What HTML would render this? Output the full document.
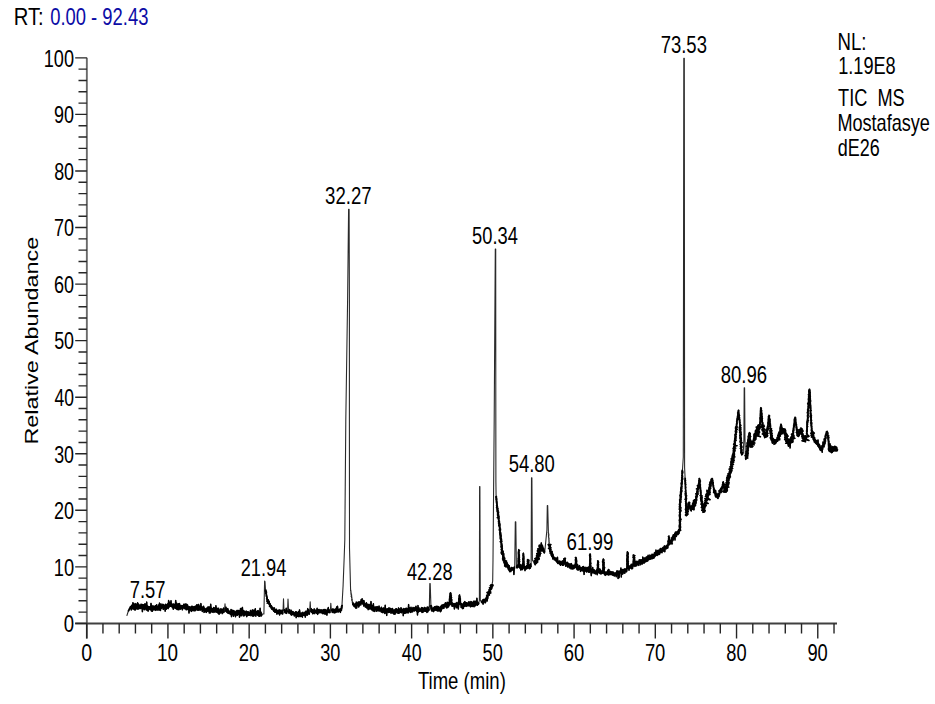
<!DOCTYPE html>
<html><head><meta charset="utf-8"><style>
html,body{margin:0;padding:0;background:#fff;}
svg{display:block;font-family:'Liberation Sans',sans-serif;}
</style></head><body>
<svg width="935" height="704" viewBox="0 0 935 704">
<rect width="935" height="704" fill="#fff"/>
<path d="M86.85,57.86 V638.6" stroke="#6a6a6a" stroke-width="1.9" fill="none"/>
<path d="M75.2,623.5 H837" stroke="#404040" stroke-width="1.8" fill="none"/>
<path d="M75.2,623.40H86.9 M78.5,612.09H86.9 M78.5,600.78H86.9 M78.5,589.47H86.9 M78.5,578.16H86.9 M75.2,566.85H86.9 M78.5,555.54H86.9 M78.5,544.22H86.9 M78.5,532.91H86.9 M78.5,521.60H86.9 M75.2,510.29H86.9 M78.5,498.98H86.9 M78.5,487.67H86.9 M78.5,476.36H86.9 M78.5,465.05H86.9 M75.2,453.74H86.9 M78.5,442.43H86.9 M78.5,431.12H86.9 M78.5,419.81H86.9 M78.5,408.49H86.9 M75.2,397.18H86.9 M78.5,385.87H86.9 M78.5,374.56H86.9 M78.5,363.25H86.9 M78.5,351.94H86.9 M75.2,340.63H86.9 M78.5,329.32H86.9 M78.5,318.01H86.9 M78.5,306.70H86.9 M78.5,295.39H86.9 M75.2,284.08H86.9 M78.5,272.77H86.9 M78.5,261.45H86.9 M78.5,250.14H86.9 M78.5,238.83H86.9 M75.2,227.52H86.9 M78.5,216.21H86.9 M78.5,204.90H86.9 M78.5,193.59H86.9 M78.5,182.28H86.9 M75.2,170.97H86.9 M78.5,159.66H86.9 M78.5,148.35H86.9 M78.5,137.04H86.9 M78.5,125.72H86.9 M75.2,114.41H86.9 M78.5,103.10H86.9 M78.5,91.79H86.9 M78.5,80.48H86.9 M78.5,69.17H86.9 M75.2,57.86H86.9 M86.70,623.5V638.4 M102.95,623.5V633.5 M119.19,623.5V633.5 M135.44,623.5V633.5 M151.68,623.5V633.5 M167.93,623.5V638.4 M184.18,623.5V633.5 M200.42,623.5V633.5 M216.67,623.5V633.5 M232.91,623.5V633.5 M249.16,623.5V638.4 M265.41,623.5V633.5 M281.65,623.5V633.5 M297.90,623.5V633.5 M314.14,623.5V633.5 M330.39,623.5V638.4 M346.64,623.5V633.5 M362.88,623.5V633.5 M379.13,623.5V633.5 M395.37,623.5V633.5 M411.62,623.5V638.4 M427.87,623.5V633.5 M444.11,623.5V633.5 M460.36,623.5V633.5 M476.60,623.5V633.5 M492.85,623.5V638.4 M509.10,623.5V633.5 M525.34,623.5V633.5 M541.59,623.5V633.5 M557.83,623.5V633.5 M574.08,623.5V638.4 M590.33,623.5V633.5 M606.57,623.5V633.5 M622.82,623.5V633.5 M639.06,623.5V633.5 M655.31,623.5V638.4 M671.56,623.5V633.5 M687.80,623.5V633.5 M704.05,623.5V633.5 M720.29,623.5V633.5 M736.54,623.5V638.4 M752.79,623.5V633.5 M769.03,623.5V633.5 M785.28,623.5V633.5 M801.52,623.5V633.5 M817.77,623.5V638.4 M834.02,623.5V633.5" stroke="#262626" stroke-width="1.4" fill="none"/>
<path d="M126.8,615.8 128.2,611.5 128.5,610.4 128.7,610.9 129.0,609.5 129.2,610.0 129.5,608.2 129.7,609.0 130.0,608.5 130.3,606.8 130.7,608.4 131.0,606.3 131.3,609.9 131.7,605.2 132.0,606.8 132.5,608.7 132.9,602.7 133.4,609.0 133.9,603.5 134.4,609.7 134.8,604.6 135.3,609.9 135.8,603.6 136.2,608.7 136.7,604.9 137.2,608.9 137.6,602.8 138.1,609.1 138.6,604.1 139.1,608.6 139.5,605.2 140.0,607.0 140.5,608.5 141.0,604.2 141.4,608.1 141.9,604.4 142.4,611.6 142.9,604.6 143.3,608.7 143.8,604.7 144.3,609.7 144.8,603.9 145.2,608.7 145.7,604.0 146.2,609.8 146.7,602.1 147.1,610.2 147.6,606.0 148.1,611.1 148.6,606.6 149.0,609.6 149.5,606.7 150.0,607.4 150.5,609.7 151.0,603.4 151.4,611.0 151.9,605.4 152.4,611.2 152.9,606.5 153.3,609.9 153.8,606.0 154.3,609.2 154.8,606.4 155.2,610.4 155.7,605.6 156.2,609.6 156.7,604.7 157.1,610.2 157.6,606.8 158.1,608.9 158.6,605.0 159.0,610.3 159.5,603.1 160.0,607.2 160.5,610.5 161.0,604.0 161.4,608.4 161.9,605.4 162.4,607.7 162.9,604.2 163.3,609.4 163.8,604.7 164.3,608.6 164.8,605.5 165.2,611.1 165.7,604.2 166.2,609.3 166.7,604.9 167.1,608.1 167.6,603.9 168.1,608.6 168.6,600.5 169.0,607.2 169.5,602.3 170.0,606.0 170.5,606.3 171.0,600.7 171.4,606.4 171.9,603.8 172.4,607.6 172.9,604.7 173.3,609.3 173.8,603.9 174.3,607.7 174.8,604.7 175.2,608.2 175.7,600.5 176.2,608.8 176.7,603.2 177.1,609.4 177.6,604.2 178.1,609.8 178.6,603.7 179.0,609.6 179.5,603.5 180.0,606.5 180.5,609.1 181.0,605.4 181.4,608.5 181.9,605.7 182.4,609.8 182.9,605.5 183.3,607.8 183.8,604.3 184.3,608.6 184.8,604.2 185.2,608.7 185.7,604.0 186.2,609.8 186.7,604.3 187.1,609.6 187.6,605.0 188.1,608.9 188.6,606.9 189.0,613.0 189.5,606.7 190.0,607.8 190.5,610.5 190.9,606.9 191.4,611.4 191.8,606.2 192.3,610.6 192.7,606.4 193.2,610.2 193.6,607.0 194.1,610.9 194.5,606.5 195.0,608.0 195.5,610.6 195.9,605.9 196.4,609.0 196.8,604.7 197.3,610.1 197.7,605.1 198.2,610.2 198.6,604.4 199.1,610.1 199.5,606.1 200.0,608.5 200.5,610.0 200.9,603.6 201.4,609.6 201.8,606.8 202.3,611.5 202.7,607.2 203.2,610.1 203.6,606.2 204.1,612.4 204.5,608.1 205.0,609.6 205.5,611.7 206.0,608.8 206.4,612.4 206.9,608.1 207.4,611.2 207.9,607.1 208.3,611.1 208.8,606.9 209.3,612.9 209.8,607.0 210.2,612.9 210.7,604.2 211.2,611.3 211.7,608.2 212.1,612.3 212.6,608.8 213.1,611.6 213.6,607.5 214.0,612.4 214.5,607.9 215.0,610.1 215.5,611.8 215.9,605.7 216.4,612.1 216.8,608.2 217.3,612.3 217.7,608.4 218.2,613.4 218.6,608.2 219.1,614.3 219.5,610.0 220.0,611.4 220.4,612.9 220.9,608.7 221.3,612.1 221.8,609.5 222.2,613.6 222.7,609.3 223.2,612.6 223.6,608.1 224.1,612.0 224.5,611.5 225.0,603.7 225.6,611.5 226.0,607.2 226.5,612.0 226.9,609.1 227.4,612.6 227.8,608.6 228.2,613.4 228.7,610.4 229.1,613.5 229.6,611.6 230.0,613.2 230.5,614.5 231.0,609.5 231.5,616.6 232.0,610.1 232.5,614.6 233.0,610.4 233.5,616.3 234.0,610.8 234.5,614.8 235.0,612.1 235.5,616.7 236.0,611.2 236.5,615.1 237.0,610.4 237.5,615.2 238.0,610.4 238.5,614.2 239.0,610.6 239.5,617.2 240.0,613.2 240.5,608.5 241.0,615.6 241.4,608.6 241.9,615.8 242.4,607.4 242.9,614.1 243.3,610.5 243.8,615.9 244.3,611.1 244.8,615.5 245.2,612.0 245.7,614.5 246.2,611.1 246.7,616.6 247.1,611.6 247.6,615.5 248.1,611.7 248.6,615.3 249.0,612.4 249.5,615.2 250.0,613.5 250.5,610.4 251.0,615.8 251.4,611.4 251.9,615.1 252.4,609.9 252.9,616.3 253.4,610.2 253.8,615.9 254.3,610.3 254.8,615.0 255.3,608.7 255.8,616.1 256.2,611.7 256.7,614.5 257.2,611.0 257.7,615.2 258.2,610.6 258.6,616.0 259.1,612.3 259.6,616.3 260.1,608.3 260.6,615.7 261.0,612.1 261.5,615.9 262.0,614.0 263.9,614.0 264.6,581.0 265.0,581.5 265.5,590.0 266.0,590.1 265.3,590.8 266.2,591.1 265.5,591.8 266.6,592.1 265.8,592.7 266.3,593.1 265.7,593.7 266.5,594.0 266.2,594.6 266.6,595.0 266.2,595.5 266.9,596.0 266.3,596.5 267.1,597.0 266.7,597.5 267.3,597.9 266.6,598.5 267.3,598.9 266.8,599.4 267.3,600.0 268.3,599.8 266.7,601.1 268.7,600.7 267.6,601.8 269.3,601.6 267.2,603.1 269.4,602.7 268.6,603.5 270.0,603.5 269.1,604.4 270.5,604.3 269.6,605.4 270.6,605.4 269.5,606.5 271.5,605.9 270.8,607.0 271.1,608.0 271.4,605.8 271.8,609.2 272.1,607.0 272.4,609.5 272.7,607.5 273.0,610.0 273.4,608.1 273.7,611.3 274.0,610.5 274.4,607.9 274.8,612.2 275.2,609.4 275.6,612.2 276.0,612.0 276.4,609.3 276.9,614.1 277.3,610.4 277.8,613.2 278.2,610.8 278.7,613.7 279.1,609.8 279.6,615.0 280.0,612.5 280.4,610.3 280.9,613.4 281.3,611.2 281.7,613.6 282.1,610.1 282.6,614.0 283.0,612.0 283.5,598.7 284.0,611.0 284.4,609.7 284.9,612.6 285.3,610.5 285.8,613.0 286.2,608.3 286.6,613.4 287.1,610.6 287.5,612.0 288.0,599.1 288.6,611.0 288.9,613.1 289.2,609.5 289.4,613.0 289.7,611.3 290.0,612.5 290.5,613.9 291.0,610.1 291.4,615.1 291.9,611.4 292.4,614.6 292.9,611.6 293.3,614.5 293.8,612.2 294.3,616.0 294.8,613.1 295.2,615.4 295.7,611.7 296.2,617.6 296.7,611.9 297.1,616.3 297.6,612.7 298.1,616.5 298.6,611.7 299.0,616.6 299.5,609.9 300.0,613.7 300.5,616.5 301.0,613.2 301.4,616.3 301.9,612.9 302.4,617.1 302.9,612.3 303.4,615.3 303.8,613.4 304.3,615.3 304.8,612.3 305.3,617.1 305.8,611.2 306.2,615.0 306.7,611.3 307.2,615.2 307.7,608.6 308.2,613.6 308.6,609.7 309.1,614.4 309.6,612.5 310.2,601.7 310.8,612.0 311.3,608.8 311.8,612.5 312.3,609.8 312.7,613.8 313.2,610.4 313.7,613.2 314.2,608.9 314.7,613.6 315.2,610.1 315.6,612.4 316.1,610.4 316.6,613.2 317.1,608.3 317.6,614.4 318.1,609.9 318.5,613.0 319.0,609.4 319.5,612.6 320.0,612.7 320.5,609.9 321.0,612.4 321.5,609.9 322.0,613.1 322.5,610.3 322.9,613.7 323.4,609.6 323.9,613.4 324.4,609.5 324.9,614.1 325.4,609.6 325.9,613.9 326.4,610.4 326.9,615.1 327.4,609.2 327.8,612.5 328.3,607.5 328.8,612.4 329.3,610.0 329.8,612.7 330.3,612.0 330.8,603.4 331.4,611.0 331.9,609.4 332.3,612.5 332.8,608.9 333.3,612.1 333.8,609.3 334.2,612.9 334.7,609.5 335.2,612.6 335.6,609.0 336.1,612.0 336.6,607.0 337.1,612.0 337.5,606.3 338.0,610.6 338.5,611.9 338.9,609.5 339.4,611.1 339.9,609.0 340.4,612.4 340.8,609.3 341.3,610.5 341.6,610.0 340.8,609.4 341.7,609.0 341.0,608.5 341.9,608.1 341.3,607.6 342.1,607.2 341.4,606.7 342.2,606.3 341.7,605.8 342.3,605.4 342.0,605.0 343.1,585.5 344.2,557.0 344.8,540.0 345.8,420.0 347.6,300.0 348.6,209.2 349.1,209.2 349.4,300.0 349.4,420.0 349.5,548.0 350.6,590.0 350.9,590.2 350.5,590.7 351.0,591.2 350.7,591.7 351.1,592.1 350.8,592.6 351.2,593.1 350.9,593.6 351.4,594.0 351.0,594.6 351.7,595.0 351.2,595.6 351.7,596.0 351.0,596.6 351.9,596.9 351.5,597.5 352.0,597.9 351.7,598.4 352.0,598.9 351.6,599.4 352.4,599.8 351.7,600.4 352.3,600.8 352.1,601.3 352.7,601.8 352.2,602.3 352.7,602.7 352.5,603.5 352.8,604.5 353.1,602.9 353.4,605.4 353.8,603.8 354.1,606.4 354.4,604.9 354.7,606.8 355.0,606.0 355.4,603.7 355.9,608.2 356.3,602.1 356.7,607.9 357.1,602.9 357.6,605.6 358.0,604.5 358.3,601.9 358.7,607.0 359.0,602.9 359.4,605.7 359.7,601.9 360.1,604.3 360.4,601.5 360.8,605.0 361.1,599.8 361.5,603.0 361.8,601.0 362.1,598.8 362.4,603.9 362.8,600.9 363.1,603.7 363.4,600.5 363.7,606.0 364.0,600.8 364.4,605.8 364.7,603.3 365.0,604.5 365.4,607.1 365.7,604.0 366.1,606.4 366.4,602.8 366.8,608.0 367.2,604.2 367.5,607.9 367.9,604.3 368.2,609.6 368.6,607.5 369.1,604.4 369.6,608.9 370.1,605.3 370.5,608.7 371.0,601.6 371.5,609.8 372.0,607.5 372.5,605.4 372.9,610.7 373.4,603.8 373.9,611.1 374.4,607.3 374.8,611.5 375.3,607.0 375.8,609.6 376.2,607.1 376.7,611.2 377.2,606.6 377.6,610.6 378.1,607.2 378.6,610.8 379.1,606.1 379.5,611.0 380.0,610.0 380.5,608.3 381.0,611.7 381.4,607.3 381.9,612.3 382.4,609.0 382.9,612.7 383.3,607.9 383.8,612.0 384.3,608.3 384.8,613.5 385.2,605.3 385.7,612.8 386.2,609.3 386.7,615.4 387.1,608.8 387.6,612.0 388.1,608.8 388.6,612.5 389.0,607.7 389.5,612.2 390.0,610.5 390.5,608.4 391.0,613.3 391.5,608.9 392.0,612.2 392.5,608.5 393.0,613.3 393.5,610.1 394.0,614.2 394.5,609.9 395.0,614.1 395.5,609.0 396.0,612.8 396.5,608.8 397.0,611.9 397.5,609.7 398.0,613.3 398.5,607.9 399.0,613.3 399.5,609.0 400.0,610.5 400.5,612.4 401.0,607.7 401.4,612.7 401.9,609.0 402.4,611.7 402.9,609.6 403.3,615.6 403.8,608.5 404.3,613.2 404.8,609.1 405.2,613.3 405.7,608.4 406.2,612.8 406.7,608.2 407.1,612.5 407.6,609.1 408.1,612.9 408.6,604.6 409.0,611.8 409.5,607.7 410.0,610.0 410.5,612.4 411.0,607.3 411.5,611.9 412.0,608.6 412.5,611.8 413.0,607.4 413.5,610.8 414.0,608.0 414.5,610.9 415.0,607.5 415.5,610.3 416.0,606.2 416.5,611.1 417.0,608.2 417.5,614.9 418.0,605.6 418.5,612.0 419.0,607.9 419.5,611.3 420.0,610.0 420.5,609.1 421.0,611.3 421.5,607.6 422.0,612.5 422.4,607.8 422.9,612.3 423.4,608.4 423.9,611.1 424.4,607.4 424.9,611.2 425.4,607.9 425.9,611.2 426.4,608.2 426.9,612.5 427.3,607.0 427.8,611.8 428.3,607.2 428.8,610.5 429.3,609.0 429.8,583.6 430.2,583.6 430.9,605.0 431.2,605.5 430.1,606.1 431.6,606.3 430.8,607.0 431.6,607.3 430.8,608.0 432.2,608.0 431.0,608.9 432.2,609.0 431.3,609.7 432.3,609.9 431.5,610.6 432.0,611.0 432.4,608.1 432.8,610.7 433.1,608.2 433.5,611.6 433.9,607.4 434.2,610.8 434.6,606.7 435.0,609.0 435.5,610.2 435.9,606.4 436.4,610.3 436.8,606.3 437.3,610.9 437.7,606.4 438.2,610.9 438.6,606.6 439.1,610.8 439.5,607.4 440.0,608.0 440.4,611.7 440.8,606.2 441.2,610.9 441.7,605.2 442.1,608.8 442.5,605.1 442.9,607.8 443.3,604.7 443.8,608.4 444.2,604.2 444.6,606.7 445.0,605.2 445.4,602.8 445.9,607.0 446.4,603.6 446.8,608.0 447.2,602.2 447.7,607.4 448.1,602.8 448.6,606.7 449.1,602.2 449.5,605.0 450.1,604.6 449.3,604.0 450.1,603.6 449.4,603.0 450.0,602.6 449.6,602.1 450.6,601.6 449.3,601.1 450.4,600.6 449.4,600.1 450.2,599.7 449.4,599.1 451.0,598.6 449.5,598.1 450.4,597.7 449.7,597.2 450.6,596.7 449.6,596.2 451.4,595.7 449.9,595.2 450.9,594.7 450.0,594.3 451.0,593.7 450.0,593.3 450.6,592.8 450.2,593.3 451.0,593.6 450.3,594.3 451.1,594.6 450.6,595.2 451.1,595.6 450.0,596.3 451.3,596.5 450.8,597.1 451.6,597.4 450.6,598.2 451.4,598.5 450.7,599.1 451.8,599.4 451.1,600.0 451.8,600.4 451.2,601.0 451.7,601.4 451.2,602.0 451.8,602.4 451.4,602.9 452.1,603.3 451.1,603.9 452.1,604.3 451.8,605.0 452.2,606.3 452.6,603.3 453.0,605.2 453.5,606.1 454.0,603.5 454.4,608.9 454.9,603.9 455.4,606.4 455.9,603.3 456.4,607.8 456.9,602.5 457.4,607.5 457.8,603.7 458.3,609.0 458.8,604.5 458.4,604.1 459.1,603.8 458.5,603.2 459.6,602.9 458.4,602.2 459.5,601.9 458.6,601.3 459.8,601.1 458.7,600.3 459.7,600.1 458.7,599.4 459.8,599.1 458.7,598.5 459.6,598.1 459.0,597.6 459.7,597.2 459.3,596.7 460.0,596.3 459.3,595.7 459.6,595.0 459.1,595.8 459.9,596.2 459.1,596.7 460.0,597.2 459.5,597.7 460.2,598.1 459.7,598.6 460.5,599.1 459.5,599.6 460.3,600.0 459.5,600.5 460.5,601.0 459.6,601.5 460.5,601.9 459.9,602.5 460.7,602.9 460.2,603.4 460.9,603.8 460.2,604.4 460.5,604.5 460.9,603.5 461.2,607.5 461.6,603.7 462.0,605.5 462.5,608.6 462.9,604.0 463.4,608.4 463.9,602.5 464.4,606.4 464.8,601.6 465.3,605.9 465.8,602.5 466.2,606.4 466.7,602.8 467.2,605.8 467.6,603.3 468.1,605.8 468.6,601.9 469.1,605.8 469.5,602.0 470.0,604.8 470.5,606.8 470.9,601.5 471.4,606.4 471.8,602.0 472.3,606.5 472.7,602.6 473.2,606.1 473.6,601.2 474.1,606.7 474.5,601.2 475.0,603.5 475.5,605.7 476.0,601.0 476.5,604.8 476.9,598.2 477.4,605.3 477.9,602.2 478.4,604.4 478.9,603.0 479.4,600.0 479.6,486.6 479.9,486.6 480.3,600.0 481.5,602.6 481.9,601.1 482.3,602.9 482.7,600.1 483.1,604.1 483.4,599.4 483.8,602.9 484.2,599.4 484.6,601.7 485.0,600.0 485.3,599.1 485.5,602.7 485.8,598.2 486.1,601.0 486.4,597.0 486.6,599.5 486.9,596.1 487.2,600.9 487.5,595.1 487.7,598.7 488.0,595.8 486.6,595.3 489.4,595.1 487.8,594.6 489.6,594.0 487.4,593.5 490.8,593.0 487.0,592.4 490.8,592.0 488.4,591.4 490.4,590.8 490.0,590.7 488.9,589.9 491.1,589.5 489.8,588.8 491.7,588.7 489.4,587.8 492.1,587.8 490.6,586.8 492.1,586.8 490.2,585.7 492.8,586.0 490.9,584.8 493.1,585.1 492.0,584.7 492.7,581.0 493.0,560.0 494.2,420.0 495.3,249.1 495.7,249.1 495.8,400.0 495.9,482.0 496.1,496.0 496.5,496.4 495.8,496.9 496.5,497.3 495.9,497.9 496.7,498.3 496.2,498.8 496.8,499.3 496.0,499.8 496.7,500.2 496.4,500.7 496.9,501.2 496.3,501.7 497.0,502.2 496.4,502.7 497.1,503.1 496.6,503.6 497.1,504.1 496.7,504.6 497.3,505.0 496.5,505.6 497.3,506.0 496.7,506.5 497.6,506.9 496.5,507.5 497.3,508.0 498.0,508.3 496.8,509.0 497.7,509.3 497.2,509.9 498.2,510.2 497.0,510.9 498.0,511.2 497.3,511.8 498.7,512.1 497.6,512.7 498.5,513.1 497.5,513.7 498.3,514.1 497.5,514.7 498.8,515.0 497.6,515.7 498.7,516.0 498.0,516.6 499.2,516.9 497.3,517.7 499.0,518.0 498.3,518.5 499.1,518.9 498.4,519.5 498.8,520.0 499.1,520.3 498.5,520.9 499.5,521.2 498.4,521.9 499.5,522.2 498.9,522.8 499.7,523.2 498.5,523.8 500.0,524.1 499.0,524.7 500.0,525.0 498.7,525.7 500.0,526.0 499.3,526.6 499.9,527.0 499.4,527.6 500.2,527.9 499.5,528.5 500.5,528.9 499.3,529.6 500.6,529.8 499.4,530.5 500.4,530.8 499.8,531.4 500.2,532.0 500.6,532.3 499.6,532.9 500.8,533.3 499.8,533.9 500.9,534.2 499.9,534.8 501.1,535.2 500.1,535.8 501.3,536.2 500.2,536.8 501.0,537.2 500.2,537.7 501.3,538.2 500.2,538.7 501.6,539.2 500.6,539.7 501.4,540.2 500.8,540.6 501.9,541.2 500.2,541.7 501.5,542.2 500.9,542.6 501.7,543.2 501.1,543.6 501.9,544.2 501.1,544.6 502.1,545.2 501.2,545.6 502.3,546.1 501.0,546.5 502.2,547.1 501.2,547.5 502.4,548.1 501.5,548.6 502.3,549.1 501.2,549.5 502.3,550.1 501.5,550.5 502.1,551.0 503.3,551.2 501.3,552.0 503.3,552.2 501.1,553.0 503.3,553.2 501.7,554.1 504.0,554.0 502.5,554.9 503.8,555.0 502.7,555.9 503.9,556.0 502.7,556.9 504.0,556.9 502.7,557.9 504.6,557.8 502.5,558.9 504.9,558.8 503.0,559.8 504.7,559.8 503.2,560.7 504.2,561.0 505.6,560.8 503.8,562.1 506.6,561.1 504.2,563.0 506.5,562.4 504.5,563.9 507.1,562.8 504.6,565.0 507.5,563.8 504.6,566.0 508.2,564.7 505.7,566.7 507.0,566.6 507.3,565.0 507.6,567.7 508.0,565.6 508.3,569.3 508.6,565.7 508.9,570.1 509.3,565.8 509.6,571.6 509.9,569.5 510.4,568.6 510.8,571.6 511.3,567.4 511.8,570.2 512.2,567.6 512.7,568.8 513.1,570.1 513.5,567.9 513.9,574.5 514.3,566.9 514.7,568.5 515.3,521.9 515.8,521.9 516.4,566.0 516.8,567.8 517.1,565.4 517.5,567.7 517.8,565.8 518.2,567.0 518.8,566.7 518.0,566.2 518.6,565.7 518.0,565.2 518.5,564.7 518.0,564.2 518.7,563.7 518.2,563.2 518.5,562.7 518.1,562.2 518.6,561.7 518.0,561.2 518.8,560.7 518.1,560.2 518.8,559.7 518.2,559.2 518.6,558.7 518.1,558.2 518.7,557.7 518.4,557.2 518.9,556.7 518.3,556.2 519.1,555.7 518.4,555.2 519.4,554.7 518.3,554.2 519.0,553.7 518.3,553.2 519.1,552.7 518.3,552.2 518.9,551.7 518.5,551.2 519.4,550.7 518.5,550.2 518.8,549.6 518.7,550.3 519.6,550.6 518.7,551.2 519.0,551.7 518.7,552.2 519.2,552.7 518.7,553.2 519.1,553.7 518.7,554.2 519.2,554.7 518.7,555.2 519.4,555.6 518.5,556.2 519.4,556.6 518.6,557.2 519.5,557.6 518.7,558.2 519.3,558.6 518.9,559.2 519.6,559.5 518.8,560.2 519.5,560.6 518.9,561.2 519.7,561.5 518.9,562.2 519.5,562.5 519.1,563.1 519.5,563.5 519.0,564.2 519.6,564.5 519.0,565.2 519.5,565.5 519.2,566.1 519.7,566.5 519.4,567.0 519.8,568.1 520.3,564.6 520.7,569.9 521.1,566.4 521.6,569.6 522.0,564.8 522.5,569.6 522.9,568.0 522.5,567.3 523.1,566.9 522.6,566.4 523.3,566.0 522.5,565.4 523.2,565.0 522.8,564.4 523.4,564.0 522.6,563.4 523.5,563.0 522.9,562.5 523.4,562.0 522.9,561.5 523.3,561.0 522.9,560.5 523.5,560.0 522.7,559.5 523.6,559.1 522.8,558.5 523.6,558.1 523.0,557.6 523.7,557.1 523.1,556.6 523.9,556.1 523.2,555.6 523.6,555.1 523.0,554.6 523.7,554.1 523.1,553.6 523.4,553.2 523.3,553.6 523.7,554.1 523.0,554.6 523.6,555.1 522.9,555.6 523.8,556.1 523.1,556.6 523.9,557.1 523.4,557.6 524.0,558.0 523.4,558.6 524.0,559.0 523.2,559.6 523.8,560.0 523.4,560.5 523.9,561.0 523.5,561.5 524.1,562.0 523.5,562.5 524.0,563.0 523.4,563.5 524.1,564.0 523.6,564.5 524.3,565.0 523.7,565.5 524.1,566.0 523.5,566.5 524.4,566.9 523.6,567.4 524.0,568.0 524.5,566.5 525.0,570.6 525.5,566.6 526.0,569.1 526.5,565.8 527.0,568.5 527.5,568.0 527.3,567.4 527.8,567.0 527.2,566.4 528.1,566.1 527.1,565.4 528.0,565.1 527.4,564.5 528.2,564.1 527.2,563.6 528.2,563.2 527.5,562.7 528.4,562.2 527.3,561.7 528.4,561.3 527.4,560.8 529.0,560.3 527.4,559.8 528.0,559.5 527.5,559.9 528.3,560.3 527.7,560.8 528.7,561.2 527.9,561.8 528.9,562.1 527.9,562.8 528.5,563.1 527.7,563.7 528.8,564.0 527.9,564.6 528.6,565.0 528.2,565.6 528.9,565.9 528.0,566.6 529.1,566.8 528.0,567.5 528.6,568.0 529.0,564.0 529.4,568.7 529.9,565.2 530.3,568.3 530.7,563.8 531.1,567.0 531.5,477.8 531.9,477.8 532.4,560.0 532.7,560.7 532.9,560.3 533.2,561.4 533.4,561.0 533.7,562.1 534.0,561.8 534.2,563.0 534.5,562.8 534.7,564.1 535.0,563.8 535.2,564.8 535.5,565.0 534.4,563.3 536.4,563.5 534.2,562.1 537.0,562.7 535.1,561.7 537.8,562.0 534.6,560.4 537.4,560.8 535.3,559.7 538.0,560.0 534.9,558.6 539.0,559.4 536.0,557.8 539.3,558.6 536.5,557.0 538.9,557.4 536.4,555.9 539.0,556.4 536.8,555.1 540.1,555.9 538.3,555.3 536.7,553.5 540.3,554.4 537.9,553.0 540.9,553.3 537.4,551.7 540.0,552.3 537.4,550.7 540.2,551.3 537.9,549.9 541.7,550.9 537.8,548.8 541.7,549.9 539.3,548.4 541.1,548.2 539.3,547.4 541.6,547.7 538.9,546.1 542.6,547.2 539.2,545.2 541.8,545.9 541.1,545.3 541.3,542.9 541.5,547.5 541.7,544.3 541.9,548.3 542.2,546.0 542.4,549.9 542.6,545.9 542.8,551.0 543.0,549.0 543.2,548.2 543.4,551.8 543.6,548.3 543.9,552.5 544.1,550.1 544.3,553.0 544.5,551.5 544.7,552.4 546.9,530.0 547.3,505.6 547.7,505.6 548.4,532.0 548.2,532.5 548.6,532.9 548.3,533.4 548.8,533.9 548.3,534.4 549.1,534.9 548.4,535.4 548.8,535.8 548.4,536.3 548.8,536.8 548.5,537.3 549.0,537.8 548.7,538.2 549.1,538.7 548.6,539.2 549.1,539.7 548.8,540.2 549.2,540.6 548.8,541.1 549.2,541.6 548.9,542.1 549.4,542.6 548.9,543.1 549.3,543.5 549.2,544.0 548.2,544.6 550.9,544.5 548.6,545.6 550.5,545.6 549.2,546.5 550.4,546.7 549.2,547.5 550.9,547.5 548.5,548.5 550.8,548.5 549.5,549.3 551.0,549.4 549.8,550.2 550.9,550.4 549.7,551.2 551.1,551.3 550.2,552.1 551.7,552.3 550.1,553.1 551.3,553.3 551.0,553.9 551.3,555.4 551.5,551.9 551.8,556.4 552.1,551.4 552.3,556.9 552.6,553.6 552.8,558.9 553.1,554.6 553.4,558.4 553.6,556.7 553.9,558.1 554.3,559.7 554.6,557.5 555.0,559.9 555.3,558.0 555.7,560.7 556.1,558.8 556.4,561.5 556.8,558.1 557.1,562.5 557.5,557.3 557.8,563.5 558.2,561.0 558.6,563.1 558.9,561.4 559.3,564.0 559.6,561.0 560.0,563.8 560.5,565.2 561.0,561.3 561.4,564.5 561.9,562.2 562.4,565.2 562.8,560.8 563.3,565.2 563.8,564.3 563.3,563.4 564.5,563.0 563.7,562.5 564.6,562.1 563.8,561.5 564.7,561.1 563.6,560.5 564.7,560.2 563.8,559.6 564.9,559.3 563.9,558.6 565.5,558.4 564.6,558.2 565.3,558.2 564.4,558.7 565.1,559.2 564.5,559.7 565.3,560.1 564.7,560.6 565.3,561.1 564.6,561.6 565.6,562.0 564.8,562.5 565.7,563.0 564.9,563.5 565.6,563.9 565.3,564.8 565.8,566.2 566.2,562.7 566.7,565.7 567.2,562.3 567.6,567.0 568.1,563.1 568.6,566.7 569.1,563.8 569.5,567.9 570.0,566.3 570.5,564.1 570.9,568.8 571.4,563.6 571.8,568.8 572.3,565.2 572.8,569.0 573.2,565.2 573.7,568.6 574.1,565.5 574.6,567.9 575.0,564.8 575.5,567.5 576.0,566.8 575.2,566.2 575.9,565.8 575.3,565.2 575.9,564.8 575.1,564.2 575.9,563.9 575.4,563.3 576.1,562.9 575.4,562.3 576.2,562.0 575.5,561.4 576.2,561.0 575.4,560.4 576.2,560.1 575.4,559.4 576.2,559.1 575.7,558.5 576.3,558.1 575.4,557.5 576.0,557.4 575.4,557.6 576.3,558.1 575.6,558.6 576.5,559.1 575.9,559.6 576.5,560.1 575.9,560.6 576.8,561.1 575.8,561.6 576.5,562.1 576.0,562.6 576.7,563.1 575.9,563.6 576.6,564.1 576.2,564.6 576.7,565.1 576.1,565.6 576.8,566.1 575.5,566.6 576.9,567.1 576.6,567.8 577.1,569.6 577.6,564.6 578.1,570.1 578.5,566.6 579.0,569.4 579.5,565.6 580.0,568.3 580.5,571.4 580.9,567.4 581.4,570.6 581.8,567.6 582.3,570.6 582.7,566.7 583.2,571.1 583.6,566.5 584.1,574.4 584.5,567.8 585.0,569.6 585.5,571.0 585.9,567.3 586.4,572.0 586.9,568.0 587.4,571.1 587.8,567.4 588.3,572.1 588.8,566.9 589.2,572.3 589.7,570.5 589.5,569.8 589.9,569.3 589.4,568.8 590.1,568.3 589.4,567.8 590.1,567.4 589.6,566.9 590.1,566.4 589.5,565.9 590.3,565.4 589.6,564.9 590.1,564.4 589.6,563.9 590.1,563.5 589.8,563.0 590.2,562.5 589.7,562.0 590.1,561.5 589.8,561.0 590.4,560.6 589.7,560.1 590.3,559.6 589.8,559.1 590.3,558.6 589.9,558.1 590.3,557.7 589.7,557.1 590.4,556.7 589.7,556.2 590.5,555.7 589.9,555.2 590.5,554.8 589.9,554.2 590.2,554.0 589.8,554.3 590.4,554.7 589.5,555.2 590.4,555.7 590.1,556.2 590.6,556.7 590.1,557.2 590.5,557.7 590.2,558.1 590.7,558.6 590.0,559.1 590.7,559.6 590.0,560.1 590.6,560.6 590.3,561.1 590.6,561.6 590.3,562.0 590.7,562.5 590.2,563.0 590.9,563.5 590.3,564.0 590.7,564.5 590.4,565.0 590.8,565.5 590.3,565.9 591.0,566.4 590.3,566.9 590.9,567.4 590.3,567.9 591.0,568.4 590.2,568.8 591.4,569.4 590.6,569.8 591.0,570.3 590.8,571.0 591.3,575.6 591.7,569.8 592.2,572.9 592.7,567.5 593.1,572.3 593.6,569.8 594.1,573.5 594.5,570.0 595.0,572.4 595.4,573.9 595.9,571.1 596.3,573.5 596.7,569.7 597.2,574.7 597.6,572.5 597.3,571.7 597.9,571.2 597.1,570.8 598.0,570.2 597.5,569.8 598.3,569.3 597.2,568.8 598.0,568.2 597.3,567.8 598.0,567.3 597.6,566.8 598.3,566.3 597.4,565.9 598.3,565.4 597.3,564.9 598.1,564.3 597.5,563.9 598.2,563.4 597.6,562.9 598.2,562.4 597.7,561.9 598.5,561.5 597.7,560.9 598.0,560.8 597.6,561.0 598.4,561.4 597.7,562.0 598.6,562.4 597.7,563.0 598.4,563.4 597.8,563.9 598.6,564.4 597.7,564.9 598.5,565.4 597.9,565.9 598.5,566.4 597.7,566.9 598.5,567.4 597.8,567.9 598.7,568.4 597.9,568.8 599.0,569.4 597.8,569.8 598.7,570.3 598.1,570.8 599.0,571.3 598.3,571.8 598.5,572.6 599.0,569.9 599.4,573.1 599.9,569.0 600.3,573.8 600.8,570.2 601.2,573.8 601.6,571.6 602.1,573.4 602.5,570.5 603.0,573.0 603.6,572.4 602.8,571.9 603.4,571.4 602.7,570.9 603.4,570.5 602.9,570.0 603.7,569.5 602.7,569.0 603.4,568.5 602.8,568.0 603.7,567.6 603.0,567.1 603.5,566.6 602.9,566.1 603.4,565.6 602.8,565.2 603.4,564.7 602.8,564.2 603.9,563.7 602.9,563.2 604.3,562.7 602.8,562.3 603.7,561.8 602.5,561.3 603.5,560.8 602.9,560.3 603.8,559.8 603.1,559.4 603.4,559.0 603.2,559.4 603.9,559.8 602.9,560.4 603.9,560.8 603.1,561.4 603.7,561.8 602.6,562.4 603.9,562.8 603.2,563.3 604.1,563.8 603.2,564.3 604.1,564.7 603.4,565.3 604.0,565.7 603.2,566.3 604.2,566.7 603.4,567.3 604.7,567.7 603.4,568.3 604.4,568.7 603.2,569.3 604.3,569.7 603.7,570.2 604.2,570.7 603.4,571.2 604.5,571.6 603.6,572.2 604.3,572.6 604.0,573.3 604.4,574.3 604.8,571.7 605.2,575.4 605.6,572.3 606.0,573.8 606.5,574.6 606.9,571.8 607.4,574.4 607.8,570.3 608.3,575.0 608.8,569.4 609.2,574.7 609.7,571.4 610.2,574.5 610.6,571.4 611.1,574.6 611.5,571.9 612.0,574.2 612.5,575.1 612.9,571.7 613.4,575.5 613.9,572.8 614.4,575.9 614.8,573.3 615.3,575.1 615.8,572.8 616.2,576.7 616.7,571.1 617.2,574.7 617.6,570.9 618.1,578.5 618.6,571.2 619.1,577.6 619.5,571.1 620.0,572.8 620.4,572.9 620.9,568.0 621.3,577.0 621.7,569.7 622.2,574.2 622.6,569.5 623.0,573.7 623.4,569.7 623.9,571.9 624.3,568.9 624.7,573.3 625.2,569.1 625.6,570.5 626.0,571.8 626.3,568.4 626.6,571.7 627.0,569.5 626.4,568.9 627.3,568.4 626.7,567.9 627.5,567.4 626.8,566.9 627.4,566.4 626.9,565.9 627.4,565.4 626.9,565.0 627.4,564.4 626.7,564.0 627.6,563.4 626.9,563.0 627.5,562.5 626.8,562.0 627.7,561.5 626.8,561.0 627.6,560.5 626.7,560.0 627.7,559.5 626.7,559.0 627.7,558.5 627.1,558.1 627.6,557.5 627.0,557.1 627.7,556.6 627.0,556.1 627.6,555.6 627.2,555.1 627.8,554.6 627.2,554.1 628.0,553.6 627.1,553.1 628.0,552.6 627.2,552.2 627.5,551.8 627.3,552.2 628.0,552.6 627.2,553.2 628.3,553.5 627.4,554.1 628.2,554.5 626.8,555.2 628.0,555.5 627.5,556.1 628.2,556.5 627.4,557.1 628.2,557.5 627.5,558.0 628.1,558.5 627.6,559.0 628.1,559.4 627.6,560.0 628.1,560.4 627.3,561.0 628.4,561.4 627.6,562.0 628.2,562.4 627.1,563.0 628.4,563.4 627.4,564.0 628.2,564.4 627.7,564.9 628.6,565.3 627.5,565.9 628.4,566.3 627.4,566.9 628.5,567.3 627.8,567.8 628.1,568.5 628.5,566.1 629.0,570.2 629.4,566.3 629.9,568.4 630.3,565.9 630.8,567.6 631.2,564.3 631.6,568.8 632.1,564.5 632.5,568.6 633.0,563.7 633.4,566.0 633.7,565.3 633.2,564.8 633.7,564.3 632.9,563.9 633.8,563.3 633.1,562.9 633.8,562.4 633.2,561.9 633.9,561.4 633.1,561.0 634.2,560.5 633.4,560.0 634.0,559.5 633.4,559.1 634.0,558.5 633.4,558.1 634.0,557.6 632.9,557.2 634.2,556.6 633.6,556.2 634.3,555.7 633.5,555.2 633.9,555.0 633.1,555.3 634.9,555.6 633.4,556.2 634.5,556.6 633.5,557.2 634.7,557.5 633.9,558.1 634.6,558.5 633.7,559.0 634.7,559.4 633.9,560.0 634.5,560.4 633.9,560.9 634.9,561.3 633.5,562.0 634.8,562.3 633.8,562.9 634.7,563.2 634.1,563.8 634.8,564.2 634.5,565.0 634.9,566.4 635.4,561.3 635.8,565.8 636.2,561.3 636.7,565.8 637.1,561.7 637.5,564.6 638.0,561.2 638.4,564.0 638.8,565.4 639.3,559.8 639.7,563.4 640.2,560.1 640.6,564.7 641.0,559.7 641.5,563.8 641.9,559.9 642.4,563.9 642.8,557.1 643.3,562.8 643.7,558.4 644.1,563.1 644.6,558.0 645.0,562.0 645.5,558.1 645.9,561.7 646.3,557.0 646.8,561.3 647.2,556.7 647.7,561.0 648.1,555.3 648.6,559.8 649.0,556.6 649.4,559.4 649.9,555.1 650.3,559.2 650.8,555.5 651.2,557.5 651.6,558.7 652.0,554.2 652.4,558.6 652.8,554.5 653.2,558.2 653.6,554.5 654.0,558.0 654.4,552.9 654.8,556.8 655.2,552.2 655.6,555.7 656.0,550.1 656.4,555.1 656.8,551.9 657.2,555.5 657.6,550.5 658.0,553.9 658.4,550.3 658.8,554.6 659.2,550.6 659.6,554.1 660.0,549.0 660.4,552.6 660.8,548.4 661.2,552.3 661.6,549.2 662.0,552.7 662.4,548.1 662.8,550.6 663.2,547.3 663.6,551.1 664.0,548.6 664.4,545.9 664.8,551.7 665.1,546.1 665.5,548.8 665.9,546.4 666.2,548.8 666.6,545.4 667.0,548.2 667.4,545.0 667.8,548.0 668.1,544.0 668.5,545.0 669.1,544.8 668.2,544.1 668.8,543.8 668.3,543.2 668.9,542.8 668.4,542.2 668.9,541.9 667.8,541.2 669.1,541.0 668.4,540.3 669.1,540.0 668.5,539.4 669.2,539.1 668.5,538.5 669.7,538.1 668.6,537.6 669.2,537.2 668.4,536.5 669.0,536.0 668.7,536.7 669.3,537.2 668.9,537.6 669.7,538.0 668.8,538.6 669.4,539.0 669.0,539.6 669.8,539.9 669.0,540.5 669.6,540.9 669.1,541.4 669.7,541.8 668.9,542.4 669.7,542.8 669.3,543.3 669.7,543.7 669.1,544.3 669.6,544.5 667.9,543.3 672.4,543.7 668.0,542.3 672.0,542.7 668.5,541.7 672.3,541.7 669.0,541.2 672.8,540.6 669.1,540.2 673.3,539.7 671.6,539.6 671.9,537.5 672.3,540.2 672.6,536.3 673.0,538.4 673.3,534.7 673.6,538.6 674.0,534.7 674.3,538.4 674.7,533.6 675.0,540.0 675.3,532.2 675.7,536.4 676.0,532.1 676.4,536.5 676.7,534.5 677.0,531.8 677.3,534.5 677.6,532.0 677.9,534.6 678.1,530.7 678.4,534.0 678.7,529.9 679.0,533.5 679.3,531.0 678.5,530.3 679.9,530.8 678.6,529.5 680.7,530.2 679.2,529.0 680.5,529.2 679.9,528.0 679.3,527.7 680.6,527.6 679.2,526.7 680.6,526.6 679.2,525.7 680.4,525.6 679.4,524.8 680.5,524.6 679.7,524.0 680.5,523.6 679.4,522.9 680.3,522.6 679.6,522.0 680.6,521.7 679.3,520.9 680.2,520.7 679.3,519.9 681.1,519.7 679.5,519.0 680.7,518.7 679.6,518.0 680.4,517.7 679.5,517.0 680.3,516.8 679.3,516.0 680.3,515.8 679.3,515.0 680.5,514.8 679.6,514.1 680.2,513.8 679.6,513.1 680.3,512.8 679.4,512.1 680.4,511.9 679.7,511.2 681.1,510.9 679.7,510.2 680.9,509.9 679.2,509.1 680.3,508.9 679.5,508.2 681.1,508.0 679.4,507.2 680.6,507.0 679.3,506.2 680.5,506.0 679.7,505.3 680.6,505.0 679.3,504.2 680.0,503.5 680.4,503.6 679.8,502.9 680.8,502.6 679.7,501.9 680.9,501.6 679.6,500.8 680.7,500.6 679.6,499.8 681.1,499.6 680.1,499.0 681.0,498.6 680.1,498.0 681.2,497.6 680.3,497.0 681.4,496.6 679.9,495.9 681.1,495.6 680.0,495.0 681.4,494.6 680.4,494.0 681.4,493.6 680.4,493.0 681.5,492.6 680.4,492.0 681.9,491.5 680.6,491.1 681.9,490.5 680.7,490.1 681.7,489.5 680.7,489.1 681.9,488.5 680.8,488.1 681.9,487.5 680.9,487.1 682.0,486.5 681.5,485.6 681.3,485.5 682.0,484.9 681.2,484.5 682.2,483.9 681.1,483.5 682.2,482.9 681.3,482.5 682.3,481.9 681.5,481.5 682.2,480.9 681.4,480.5 682.4,479.9 681.6,479.5 682.9,478.9 681.7,478.5 682.5,477.9 681.6,477.5 682.6,476.9 681.9,476.5 682.6,475.9 681.7,475.5 682.4,474.9 682.0,474.5 682.5,473.9 681.9,473.5 682.8,472.9 681.9,472.5 682.8,471.9 681.9,471.5 682.6,470.9 682.1,470.5 682.5,469.7 683.3,457.0 683.8,58.3 684.3,58.3 684.6,467.7 685.1,477.7 685.0,478.2 685.4,478.6 685.0,479.2 685.4,479.6 684.9,480.2 685.6,480.6 684.9,481.2 685.4,481.6 685.1,482.1 685.6,482.6 685.0,483.1 685.6,483.6 685.0,484.1 685.8,484.5 685.3,485.1 685.6,485.6 685.2,486.1 685.7,486.5 685.4,487.1 685.8,487.5 685.2,488.1 685.7,488.5 685.4,489.1 685.6,489.6 685.9,490.0 685.5,490.5 685.9,490.9 685.3,491.5 685.8,491.9 685.4,492.5 686.1,492.9 685.2,493.5 686.2,493.9 685.3,494.5 686.0,494.9 685.4,495.5 686.7,495.9 685.6,496.4 686.2,496.9 685.6,497.4 686.4,497.8 685.4,498.4 686.6,498.8 685.1,499.5 686.4,499.8 685.7,500.4 686.2,500.8 685.5,501.4 686.1,501.8 685.7,502.4 686.3,502.8 685.6,503.3 686.5,503.8 685.7,504.3 686.5,504.8 685.6,505.3 686.5,505.8 685.7,506.3 686.3,506.8 685.8,507.3 686.4,507.7 685.6,508.3 686.3,508.7 685.4,509.3 686.5,509.7 685.7,510.3 686.6,510.7 686.0,511.2 686.4,511.7 685.5,512.3 686.4,512.7 686.1,513.2 686.4,513.7 685.8,514.2 686.7,514.7 685.9,515.2 686.3,515.8 685.4,514.9 687.4,515.0 686.2,514.0 688.0,514.2 686.1,512.9 687.8,513.1 686.4,512.0 687.5,512.0 688.3,511.6 687.4,510.9 688.0,510.6 687.4,509.9 688.2,509.6 687.5,508.9 688.6,508.7 687.8,508.0 688.6,507.7 687.5,506.9 689.6,506.9 687.8,506.0 689.2,505.8 688.0,505.0 689.3,504.8 688.1,504.1 689.4,503.8 688.1,503.1 689.3,502.8 689.0,502.2 689.7,502.7 688.5,503.3 689.6,503.7 688.6,504.3 689.7,504.7 688.9,505.3 689.9,505.7 688.9,506.3 690.1,506.6 689.2,507.2 690.3,507.6 690.0,508.0 690.4,510.0 690.8,507.5 691.2,511.0 691.6,506.8 692.0,509.0 694.0,509.8 690.9,507.9 694.2,508.8 691.0,506.8 694.0,507.6 691.3,505.9 694.4,506.8 692.7,505.6 695.1,506.0 692.4,504.3 695.6,505.2 692.5,503.3 695.6,504.1 693.3,502.6 696.0,503.3 693.4,501.6 696.3,502.2 693.4,500.5 696.2,501.1 694.4,499.8 696.9,500.0 696.0,498.8 695.8,498.7 696.7,498.2 695.8,497.7 697.0,497.2 695.6,496.7 697.5,496.1 696.1,495.8 697.3,495.2 696.2,494.8 698.2,494.1 695.8,493.8 698.0,493.1 696.8,492.8 698.0,492.1 696.7,491.8 698.1,491.1 697.0,490.8 697.9,490.2 697.3,489.8 698.6,489.2 696.4,488.9 698.4,488.2 697.6,487.8 699.0,487.3 697.8,486.7 698.6,486.3 697.3,485.8 699.0,485.3 698.5,485.0 698.3,484.4 698.9,484.0 698.5,483.5 699.1,483.0 698.7,482.5 699.4,482.1 698.8,481.6 699.2,481.1 698.8,480.6 699.9,480.2 699.1,479.7 699.7,479.2 699.1,478.7 699.5,478.4 699.3,478.8 699.8,479.2 699.3,479.8 700.0,480.2 699.4,480.7 700.5,481.1 699.5,481.7 700.2,482.1 699.7,482.6 700.0,483.1 699.8,483.6 700.1,484.1 699.7,484.6 700.5,485.0 700.0,485.5 700.3,486.0 699.9,486.5 700.5,487.0 700.1,487.5 700.6,488.0 699.9,488.5 700.6,488.9 700.3,489.4 700.8,489.9 700.2,490.4 701.0,490.9 700.3,491.4 701.0,491.9 700.5,492.4 701.1,492.8 700.5,493.4 701.0,493.8 700.6,494.3 701.1,494.8 701.0,495.4 700.1,495.6 702.0,495.6 700.9,496.6 702.0,496.6 700.6,497.6 702.3,497.6 700.5,498.6 702.1,498.6 700.7,499.6 702.0,499.6 700.9,500.6 702.2,500.6 701.1,501.5 702.6,501.5 701.5,502.3 702.3,502.5 701.2,503.4 702.7,503.5 701.1,504.4 702.5,504.5 701.7,505.1 702.7,505.5 701.8,506.1 702.8,506.5 702.0,507.0 703.1,507.5 702.1,508.0 703.3,508.5 702.1,508.9 703.5,509.5 702.3,509.9 703.4,510.4 702.6,510.9 703.5,511.4 703.0,512.4 704.8,511.7 701.7,510.3 705.2,510.6 702.8,509.6 704.7,509.7 702.4,508.4 704.7,508.7 701.3,507.3 705.0,507.6 703.7,507.0 705.7,506.4 703.8,506.1 706.2,505.4 703.2,504.7 705.9,504.4 704.2,504.2 706.4,503.4 704.2,503.1 708.2,503.5 705.0,502.1 706.7,501.4 706.0,502.2 704.9,500.6 707.3,500.2 705.3,499.5 707.5,499.4 704.9,498.6 710.1,499.7 706.4,497.3 708.2,498.0 705.4,496.4 707.9,496.8 706.0,495.3 708.3,496.0 705.9,494.3 708.7,495.2 707.0,493.4 710.0,494.6 707.1,492.4 709.7,493.5 706.9,491.4 710.2,492.7 706.8,490.3 709.0,492.0 710.0,491.3 708.3,490.4 710.0,490.3 708.7,489.5 710.1,489.3 708.7,488.5 710.7,488.5 708.9,487.6 710.5,487.5 709.3,486.7 710.9,486.6 709.5,485.7 710.8,485.6 709.3,484.7 711.4,485.0 709.7,483.8 711.0,483.7 709.8,482.8 711.6,483.1 710.1,481.9 711.0,482.0 712.0,481.9 710.9,480.8 711.6,480.7 711.0,479.9 712.1,480.0 711.3,479.1 712.3,479.0 712.0,478.4 712.5,478.8 712.0,479.5 712.6,479.7 712.0,480.4 712.9,480.6 711.6,481.4 712.9,481.6 712.4,482.2 713.3,482.5 712.4,483.2 713.3,483.4 712.7,484.1 713.2,484.4 712.9,485.0 713.6,485.3 713.1,485.9 713.6,486.3 713.2,486.9 713.7,487.3 713.4,487.8 714.0,488.2 713.6,488.8 714.3,489.1 713.5,489.7 714.0,490.3 714.9,490.0 713.6,491.1 715.8,490.9 713.5,492.3 715.9,492.0 714.2,493.0 716.0,493.0 715.1,493.7 716.7,494.0 715.0,494.8 717.5,494.9 715.2,495.9 717.3,496.1 715.7,496.9 717.0,497.1 717.2,495.2 717.5,498.1 717.8,494.2 718.0,498.5 718.2,493.3 718.5,496.9 718.8,493.5 719.0,496.6 719.2,493.0 719.5,494.9 719.8,492.2 720.0,492.0 721.0,492.6 718.8,491.0 721.9,491.8 719.8,490.5 721.4,490.6 720.1,489.5 722.0,489.6 720.6,488.7 722.2,488.5 721.2,487.8 723.4,487.8 721.9,486.9 722.5,486.0 723.0,485.8 722.4,485.2 723.1,484.8 722.4,484.3 723.3,483.9 722.9,483.3 723.6,483.0 722.7,482.4 723.3,481.8 723.1,482.5 723.6,482.9 723.3,483.4 723.9,483.8 723.3,484.4 724.0,484.8 723.5,485.4 724.2,485.8 723.5,486.3 724.2,486.8 723.9,487.3 724.6,487.7 724.0,488.2 724.5,488.7 724.0,489.2 724.7,489.7 724.5,490.0 724.0,491.1 727.5,490.0 723.9,492.2 727.1,491.1 725.5,492.0 726.1,492.3 722.9,491.1 726.8,491.3 724.8,490.6 727.4,490.5 725.1,489.8 727.2,489.4 723.7,488.1 727.3,488.4 725.8,487.8 727.6,487.5 725.2,486.8 728.8,487.1 725.9,485.8 727.8,485.6 724.5,484.4 728.6,485.0 726.3,483.8 728.8,484.0 726.0,482.8 729.0,483.2 726.8,481.8 729.1,482.2 726.4,480.8 728.4,480.8 726.6,479.8 729.1,480.2 728.0,478.4 726.6,478.1 729.3,478.8 727.0,477.1 729.8,477.8 727.8,476.5 730.5,476.8 727.4,475.3 730.3,475.8 728.5,474.9 730.1,474.8 728.1,473.6 730.5,473.8 729.0,473.2 731.0,472.9 729.2,472.2 731.4,471.9 729.3,471.1 731.9,470.9 729.8,470.2 732.0,469.9 729.1,469.1 731.0,468.1 732.7,468.4 730.2,467.7 732.1,467.3 730.0,466.7 732.6,466.4 730.8,465.8 732.5,465.3 730.6,464.7 733.5,464.5 730.9,463.8 732.8,463.4 730.7,462.7 733.7,462.5 730.8,461.7 733.7,461.5 731.2,460.7 734.2,460.5 731.3,459.7 733.9,459.5 731.2,458.7 733.0,457.9 734.2,457.9 731.9,457.2 734.9,456.9 732.2,456.2 734.3,455.8 732.3,455.2 734.5,454.8 732.6,454.3 734.5,453.8 733.1,453.3 734.2,452.8 733.2,452.3 734.6,451.8 733.3,451.3 735.0,450.8 733.3,450.3 735.1,449.9 733.4,449.3 734.9,448.8 733.1,448.3 735.7,448.1 733.6,447.3 734.9,446.8 733.8,446.3 737.0,445.6 734.2,445.3 735.4,445.0 733.6,444.3 735.4,443.9 734.1,443.3 735.0,442.6 735.3,442.4 734.3,441.8 735.5,441.4 734.4,440.8 736.1,440.5 734.6,439.8 735.8,439.6 734.7,438.8 735.9,438.6 734.9,437.9 736.0,437.6 735.0,436.9 736.2,436.6 735.1,435.9 735.9,435.7 734.8,434.9 736.4,434.6 735.4,434.0 736.1,433.7 735.4,433.1 736.7,432.5 735.5,432.1 736.7,431.5 735.3,431.1 736.4,430.6 735.5,430.2 737.6,429.4 735.6,429.2 736.6,428.6 735.4,428.2 737.1,427.4 735.5,427.2 737.1,426.5 736.1,426.4 736.5,425.6 736.9,425.1 736.4,424.7 737.0,424.1 736.5,423.7 737.2,423.2 736.7,422.7 737.1,422.2 736.6,421.7 737.2,421.2 736.8,420.7 737.5,420.3 736.9,419.7 737.9,419.3 737.0,418.7 737.8,418.3 737.3,417.8 737.8,417.4 737.4,416.8 738.1,416.4 737.5,415.9 738.1,415.5 737.7,414.9 738.4,414.5 737.8,414.0 738.3,413.5 737.6,412.9 738.4,412.6 738.0,412.0 738.7,411.7 738.1,411.0 738.8,410.7 738.5,410.2 738.8,410.6 738.3,411.2 738.8,411.6 738.5,412.1 738.9,412.6 738.6,413.1 739.0,413.6 738.6,414.2 739.2,414.6 738.8,415.1 739.6,415.6 738.7,416.2 739.3,416.6 738.8,417.1 739.6,417.6 739.0,418.1 739.6,418.6 739.1,419.1 739.8,419.5 739.2,420.1 739.9,420.5 739.4,421.1 739.9,421.5 739.4,422.1 740.1,422.5 739.6,423.1 739.9,423.5 739.7,424.1 740.5,424.4 739.7,425.1 740.0,425.6 740.9,425.5 739.5,426.5 740.5,426.7 739.3,427.5 740.9,427.5 739.4,428.5 740.8,428.5 739.7,429.5 740.9,429.5 739.4,430.5 740.7,430.6 739.8,431.5 740.9,431.5 739.6,432.5 741.1,432.5 740.1,433.4 741.1,433.5 740.0,434.4 741.4,434.4 739.7,435.5 741.0,435.5 740.0,436.4 741.0,436.5 739.9,437.4 741.2,437.5 739.9,438.4 741.4,438.4 740.3,439.3 741.3,439.4 740.3,440.3 741.5,440.4 740.0,441.4 741.1,441.5 740.2,442.3 742.1,442.4 740.6,443.1 741.8,443.4 740.2,444.3 741.3,444.4 740.7,445.1 741.5,445.4 740.4,446.2 741.9,446.4 740.7,447.1 741.9,447.4 740.3,448.3 741.5,448.4 740.8,449.1 741.9,449.4 741.0,450.0 741.9,450.4 740.8,451.0 741.8,451.4 740.7,452.1 742.8,452.6 740.9,453.0 742.1,453.4 741.5,454.5 741.8,454.9 742.2,452.9 742.5,454.4 742.9,452.6 743.2,453.0 743.9,440.0 744.2,387.7 744.6,387.7 745.0,440.0 745.4,458.0 745.8,459.4 746.1,457.4 746.5,458.0 747.7,458.1 745.9,457.1 747.7,457.1 745.0,455.7 747.7,456.1 746.1,455.2 747.9,455.2 745.9,454.2 747.9,454.2 745.8,453.1 748.3,453.2 746.7,452.5 747.9,452.2 746.3,451.4 748.1,451.2 746.7,450.5 748.4,450.2 746.9,449.6 748.2,449.2 746.9,448.6 748.4,448.2 747.0,447.7 748.7,447.2 746.4,446.5 749.1,446.1 746.8,445.6 748.4,445.3 747.1,444.7 748.8,444.2 747.0,443.7 748.8,443.2 747.1,442.8 749.5,442.1 747.6,441.8 749.2,441.2 747.7,440.9 750.4,440.2 747.7,439.9 749.6,439.1 748.1,438.9 748.6,438.0 749.2,437.7 748.1,437.1 749.6,436.7 748.2,436.1 749.8,435.7 748.7,435.1 749.8,434.7 748.8,434.1 750.1,433.7 749.2,433.1 749.6,432.6 749.0,433.2 750.3,433.5 749.3,434.2 750.2,434.5 749.1,435.2 750.3,435.5 749.5,436.1 750.7,436.5 749.4,437.2 750.2,437.5 749.7,438.1 750.2,438.5 749.5,439.1 750.5,439.5 749.7,440.1 750.4,440.5 749.8,441.1 750.6,441.5 749.7,442.1 750.8,442.5 749.8,443.0 750.6,443.5 749.8,444.0 750.8,444.5 750.0,445.0 750.9,445.5 749.9,446.0 751.1,446.5 750.5,447.0 752.3,447.0 749.4,445.6 752.9,446.4 749.5,444.6 752.3,445.0 750.4,443.9 754.2,444.8 750.3,442.8 753.7,443.6 750.5,441.9 754.8,443.0 748.2,440.4 753.0,441.5 753.2,442.0 753.5,438.8 753.8,441.3 754.0,434.4 754.2,440.0 754.5,436.1 754.8,440.8 755.0,436.3 755.2,439.0 755.5,435.5 755.8,439.5 756.0,436.4 754.6,435.1 760.5,436.7 754.1,434.0 758.0,435.2 755.3,433.4 759.0,434.2 755.2,432.3 759.0,433.2 755.3,431.4 759.7,432.2 755.4,430.5 759.5,431.2 756.2,429.8 758.0,430.0 759.0,429.7 756.5,428.2 759.8,428.9 756.2,427.1 760.1,428.0 757.6,426.7 760.4,427.1 757.7,425.7 761.1,426.7 758.3,424.9 760.0,425.0 760.3,424.5 759.7,423.9 760.5,423.5 759.7,422.9 760.5,422.5 760.0,421.9 760.6,421.5 760.0,420.9 760.5,420.5 760.1,419.9 760.7,419.6 760.0,418.9 760.6,418.5 759.8,417.9 760.9,417.6 760.3,417.0 760.9,416.6 760.2,416.0 760.7,415.6 760.3,415.0 760.9,414.6 760.2,414.0 761.1,413.7 760.4,413.0 761.1,412.7 760.4,412.0 761.0,411.6 760.4,411.0 761.1,410.7 760.5,410.0 761.2,409.7 760.5,409.0 761.3,408.7 760.8,408.1 761.0,407.6 760.6,408.1 761.4,408.7 760.9,409.1 761.4,409.6 760.8,410.1 761.7,410.6 761.0,411.1 761.6,411.6 761.2,412.1 761.7,412.6 761.2,413.1 762.0,413.6 761.2,414.0 762.0,414.6 761.4,415.0 762.0,415.6 761.4,416.0 762.3,416.6 761.6,417.0 762.2,417.5 761.5,418.0 762.5,418.5 761.6,418.9 762.3,419.5 761.7,419.9 762.4,420.5 761.8,420.9 762.4,421.5 761.8,421.9 762.8,422.5 762.1,422.9 762.9,423.5 762.5,423.6 761.8,424.8 763.9,425.2 761.8,425.7 764.4,426.2 761.7,426.7 763.7,427.3 761.8,427.8 763.8,428.3 762.7,429.0 764.9,429.2 761.9,429.8 764.3,430.2 762.4,430.9 764.6,431.2 763.0,432.1 764.0,431.3 765.5,432.8 762.3,434.0 766.7,433.4 763.5,434.9 766.8,434.5 764.0,435.7 767.1,435.3 764.3,436.7 766.4,436.9 764.6,437.7 766.0,436.4 764.5,436.5 767.5,436.5 765.2,435.8 767.7,435.4 764.6,434.6 767.5,434.5 765.2,433.8 768.0,433.3 765.8,433.2 767.5,432.5 765.9,432.3 767.5,431.6 766.5,431.3 767.9,430.4 765.8,430.3 768.3,429.4 766.8,429.3 768.5,428.3 766.9,428.3 768.1,427.4 767.3,427.2 769.3,426.4 767.4,426.2 768.0,425.0 768.4,424.7 767.9,424.2 768.5,423.7 767.8,423.3 768.6,422.7 767.9,422.3 768.5,421.8 768.2,421.3 768.8,420.8 768.2,420.3 768.9,419.8 768.2,419.3 769.0,418.8 768.3,418.3 769.0,417.8 768.4,417.3 769.1,416.9 768.4,416.4 769.2,415.9 769.0,415.3 769.6,415.8 768.9,416.4 769.5,416.8 768.9,417.4 769.5,417.8 768.6,418.5 769.8,418.8 769.1,419.4 770.2,419.8 769.2,420.4 770.0,420.8 769.4,421.4 770.2,421.8 769.6,422.3 770.1,422.8 769.5,423.4 770.4,423.7 769.6,424.4 770.5,424.7 769.6,425.4 770.6,425.7 770.0,426.3 770.6,426.7 770.1,427.3 770.6,427.7 769.9,428.4 770.5,428.7 771.6,428.7 769.9,430.0 771.5,429.8 769.8,431.0 771.9,430.5 770.3,431.9 771.7,431.6 770.0,433.0 771.5,432.8 770.4,433.9 772.2,433.3 770.7,434.8 771.7,434.6 770.6,435.8 772.4,435.3 770.7,436.8 772.3,436.3 770.2,437.9 772.1,437.4 770.9,438.7 772.8,438.1 771.0,439.7 773.8,439.2 771.4,440.3 772.9,440.1 772.0,441.5 772.4,443.2 772.9,438.7 773.3,442.3 773.7,440.1 774.1,444.4 774.6,439.7 775.0,442.8 775.4,443.7 775.8,439.7 776.1,442.8 776.5,439.2 776.9,441.5 777.2,437.3 777.6,441.2 778.0,440.3 777.0,439.0 779.7,439.8 777.6,438.4 779.8,438.8 777.9,437.6 779.3,437.7 778.2,436.8 779.7,436.8 777.7,435.6 780.5,436.0 778.1,434.8 780.4,435.0 778.3,433.9 781.1,434.2 778.8,433.2 780.4,433.1 778.8,432.2 780.0,432.0 780.5,431.6 779.9,431.0 780.5,430.6 780.0,430.0 780.9,429.6 779.9,429.0 780.8,428.6 780.0,428.0 780.9,427.7 780.3,427.1 781.2,426.7 780.4,426.1 781.1,425.7 780.6,425.1 781.3,424.7 781.0,424.2 781.3,424.7 780.7,425.2 781.6,425.6 780.9,426.1 781.7,426.5 781.1,427.1 782.0,427.5 781.2,428.0 781.6,428.5 781.1,429.0 781.8,429.4 781.0,430.0 781.8,430.4 781.1,431.0 782.2,431.3 781.6,431.9 782.1,432.3 781.6,432.9 782.2,433.3 782.0,433.8 782.7,433.4 780.7,432.2 783.7,432.7 782.0,431.6 784.3,431.9 782.0,430.5 784.0,430.7 782.2,429.5 784.5,429.9 782.4,428.5 784.0,428.7 783.0,429.3 785.3,429.2 783.7,430.1 785.6,430.1 783.5,431.2 785.8,431.1 783.7,432.2 785.7,432.2 784.6,433.0 786.0,433.0 784.3,434.1 786.7,433.9 784.9,435.0 787.3,434.8 784.8,436.1 786.0,436.4 788.2,436.1 784.7,437.6 787.3,437.3 785.0,438.5 787.4,438.3 784.6,439.6 788.7,439.3 785.7,440.2 789.3,440.1 785.8,441.2 788.1,441.2 786.7,442.0 789.9,441.6 785.6,443.3 789.1,443.4 788.0,444.1 788.4,446.2 788.9,441.1 789.3,445.6 789.7,441.4 790.1,447.9 790.6,439.3 791.0,442.8 792.5,442.3 789.8,441.2 793.0,441.8 790.5,440.1 793.0,440.8 789.3,439.4 792.4,439.3 790.4,438.2 793.6,439.0 790.8,437.2 794.9,438.3 791.5,436.3 793.8,437.2 791.9,435.4 794.0,436.3 791.4,434.3 793.9,435.2 792.2,433.7 793.0,433.8 793.5,433.4 792.9,432.8 793.7,432.5 792.8,431.7 793.6,431.5 792.9,430.8 793.9,430.5 793.2,429.9 793.9,429.5 793.2,428.9 793.9,428.5 793.4,427.9 794.0,427.6 793.6,427.0 794.3,426.6 793.5,426.0 794.4,425.6 793.9,425.1 794.7,424.6 793.8,424.1 794.7,423.6 794.2,423.1 794.7,422.7 794.2,422.1 795.1,421.7 794.3,421.1 794.9,420.7 794.2,420.1 795.4,419.8 794.3,419.2 795.1,418.7 794.6,418.2 795.3,417.8 795.1,417.2 795.6,417.8 795.0,418.3 795.7,418.8 794.9,419.3 795.9,419.8 795.2,420.3 795.8,420.8 795.3,421.3 795.9,421.8 794.8,422.3 796.1,422.8 795.5,423.3 796.2,423.9 795.7,424.3 796.6,424.9 795.9,425.3 796.5,425.9 796.1,426.4 796.9,427.0 796.1,427.4 796.8,427.9 796.3,428.4 797.2,429.0 796.4,429.4 797.8,429.9 796.5,430.4 797.5,430.9 796.6,431.5 797.3,432.0 796.3,432.4 797.4,433.0 796.9,433.5 797.8,433.9 797.0,434.5 797.7,434.9 797.0,435.5 798.0,435.9 797.7,436.0 798.6,436.5 797.1,435.6 799.3,435.6 797.9,434.9 799.5,434.6 797.3,433.6 800.1,433.9 798.3,432.9 800.1,432.8 798.3,431.9 800.9,432.2 799.1,430.8 801.1,431.3 798.8,429.8 801.6,430.4 800.0,429.2 801.3,429.3 800.9,428.0 802.0,428.8 800.4,429.7 801.9,429.9 800.3,430.7 802.9,430.3 801.0,431.6 803.0,431.3 801.1,432.6 802.4,432.6 800.9,433.7 802.8,433.4 801.7,434.5 803.0,434.3 802.0,435.4 803.8,435.4 801.8,436.5 803.8,436.4 802.2,437.4 804.1,437.5 802.3,438.3 804.3,438.5 803.1,438.9 804.6,439.5 802.9,440.0 804.8,440.6 803.3,441.0 804.1,441.0 802.0,440.7 805.6,441.8 803.0,439.3 805.5,440.7 803.4,438.7 808.9,440.5 803.7,437.8 806.4,438.9 804.0,437.0 806.6,437.9 804.1,436.1 808.2,436.8 805.2,435.9 809.1,436.3 806.7,434.0 806.4,433.9 807.2,433.4 806.6,432.9 807.0,432.4 806.6,431.9 807.3,431.4 806.5,430.9 807.3,430.4 806.6,430.0 807.3,429.5 806.8,429.0 807.3,428.5 806.8,428.0 807.4,427.5 806.9,427.0 807.7,426.5 806.8,426.1 807.4,425.5 806.9,425.1 807.6,424.5 806.8,424.1 807.6,423.5 806.9,423.1 807.8,422.5 806.8,422.1 807.9,421.5 807.1,421.2 808.5,420.6 807.2,420.2 808.0,419.6 807.4,419.2 808.0,418.6 807.5,418.2 808.5,417.7 807.5,417.2 808.0,416.6 807.4,416.2 808.3,415.7 807.4,415.2 808.2,414.7 807.8,414.2 808.2,413.7 808.0,413.0 807.2,412.8 808.2,412.2 807.5,411.8 808.3,411.2 807.7,410.7 808.6,410.3 807.5,409.8 808.4,409.3 807.9,408.7 808.4,408.3 808.1,407.7 808.7,407.3 808.0,406.7 808.8,406.3 808.2,405.7 808.9,405.4 808.2,404.7 808.8,404.3 807.6,403.8 809.0,403.4 808.1,402.8 808.8,402.3 808.4,401.8 808.9,401.4 808.5,400.8 809.0,400.4 808.3,399.8 809.1,399.4 808.4,398.8 809.0,398.4 808.5,397.8 809.2,397.4 808.5,396.8 809.3,396.4 808.8,395.9 809.5,395.4 808.3,394.8 809.3,394.4 808.9,393.9 809.5,393.4 808.9,392.9 809.6,392.4 808.7,391.9 809.5,391.4 808.7,390.9 809.5,390.4 809.1,389.9 809.3,389.2 809.7,389.2 809.4,389.9 810.0,390.3 809.4,390.9 809.9,391.3 809.4,391.9 810.3,392.2 809.0,393.0 810.2,393.2 809.4,393.9 810.2,394.2 809.4,394.9 810.2,395.2 809.8,395.8 810.4,396.2 809.6,396.8 810.3,397.2 809.4,397.9 810.4,398.2 809.1,398.9 810.3,399.2 809.8,399.7 810.6,400.1 809.7,400.8 810.7,401.1 809.6,401.8 810.5,402.1 809.8,402.7 810.4,403.1 810.1,403.7 810.6,404.1 810.0,404.7 810.6,405.1 810.0,405.7 810.8,406.0 810.2,406.6 810.8,407.0 810.0,407.6 810.8,408.0 810.0,408.6 810.9,409.0 810.5,409.5 810.3,410.1 811.2,410.5 810.1,411.1 810.8,411.5 810.5,412.1 810.8,412.5 810.1,413.1 811.0,413.5 810.3,414.1 811.1,414.4 810.6,415.0 811.5,415.4 810.0,416.1 811.4,416.4 810.5,417.0 811.4,417.4 810.7,418.0 811.3,418.4 810.8,419.0 811.4,419.4 810.7,420.0 811.6,420.4 810.9,420.9 811.4,421.4 810.9,421.9 811.7,422.4 810.6,423.0 811.8,423.4 811.0,423.9 811.7,424.4 811.0,424.9 811.6,425.4 811.0,425.9 811.9,426.3 811.3,426.9 811.8,427.3 811.4,427.9 812.0,428.3 811.5,428.8 811.9,429.3 811.3,429.8 812.2,430.3 811.3,430.8 811.8,431.3 812.8,431.5 811.3,432.4 813.3,432.3 810.8,433.4 814.4,433.1 811.8,434.2 813.5,434.2 811.0,435.2 813.3,435.2 811.5,436.1 813.8,436.0 811.4,437.1 813.7,437.0 813.0,437.7 813.3,439.7 813.5,433.9 813.8,440.2 814.1,437.2 814.3,442.0 814.6,437.5 814.9,442.0 815.1,439.4 815.4,443.0 815.7,440.2 815.9,443.5 816.2,440.4 816.5,444.1 816.7,440.8 817.0,444.0 817.3,444.8 817.5,442.4 817.8,445.9 818.0,440.0 818.3,446.3 818.5,443.4 818.8,447.2 819.0,444.4 819.3,447.9 819.5,444.5 819.8,449.1 820.0,445.6 820.3,450.1 820.5,447.2 820.8,450.0 821.1,450.6 821.4,447.3 821.6,449.3 821.9,445.7 822.2,452.2 822.5,445.9 822.7,449.2 823.0,442.1 823.3,446.7 824.2,446.7 822.6,445.3 824.0,445.6 822.9,444.5 824.6,444.8 823.2,443.6 824.8,443.8 823.4,442.7 825.3,442.9 824.0,442.0 825.1,441.9 824.2,441.1 825.7,441.0 824.1,440.0 825.5,439.9 824.1,439.0 825.6,438.9 824.7,438.2 826.2,438.0 825.5,437.0 825.1,436.6 826.0,436.3 825.3,435.6 826.6,435.4 825.5,434.6 827.0,434.4 825.9,433.7 826.9,433.3 826.2,432.7 827.6,432.4 826.4,431.7 827.2,431.3 827.0,431.9 827.6,432.2 827.1,432.8 828.0,433.1 827.1,433.8 827.9,434.1 827.4,434.8 827.9,435.1 827.6,435.7 828.8,435.9 827.5,436.7 828.5,437.0 827.8,437.7 829.0,437.8 827.9,438.6 828.4,439.0 828.0,439.6 828.8,439.9 828.2,440.5 828.7,440.9 828.3,441.5 829.1,441.8 828.4,442.5 828.9,442.8 828.4,443.5 829.3,443.7 828.4,444.5 829.0,445.0 830.3,444.1 828.4,445.9 830.3,445.2 829.0,446.6 830.9,445.7 828.5,447.8 831.4,446.7 828.3,449.0 832.0,447.8 828.8,449.7 831.5,448.8 828.8,450.7 833.9,449.5 829.4,451.3 831.0,452.0 831.4,449.2 831.7,452.7 832.1,448.9 832.4,452.2 832.8,446.6 833.1,451.2 833.5,447.0 833.8,451.0 834.2,449.2 834.7,446.3 835.2,450.9 835.7,446.5 836.2,451.0 836.7,447.3 837.2,450.8 837.7,449.2" stroke="#2a2a2a" stroke-width="1.1" fill="none" stroke-linejoin="round"/>
<path d="M128.2,611.5 128.5,610.4 128.7,610.9 129.0,609.5 129.2,610.0 129.5,608.2 129.7,609.0 130.0,608.5 130.3,606.8 130.7,608.4 131.0,606.3 131.3,609.9 131.7,605.2 132.0,606.8 132.5,608.7 132.9,602.7 133.4,609.0 133.9,603.5 134.4,609.7 134.8,604.6 135.3,609.9 135.8,603.6 136.2,608.7 136.7,604.9 137.2,608.9 137.6,602.8 138.1,609.1 138.6,604.1 139.1,608.6 139.5,605.2 140.0,607.0 140.5,608.5 141.0,604.2 141.4,608.1 141.9,604.4 142.4,611.6 142.9,604.6 143.3,608.7 143.8,604.7 144.3,609.7 144.8,603.9 145.2,608.7 145.7,604.0 146.2,609.8 146.7,602.1 147.1,610.2 147.6,606.0 148.1,611.1 148.6,606.6 149.0,609.6 149.5,606.7 150.0,607.4 150.5,609.7 151.0,603.4 151.4,611.0 151.9,605.4 152.4,611.2 152.9,606.5 153.3,609.9 153.8,606.0 154.3,609.2 154.8,606.4 155.2,610.4 155.7,605.6 156.2,609.6 156.7,604.7 157.1,610.2 157.6,606.8 158.1,608.9 158.6,605.0 159.0,610.3 159.5,603.1 160.0,607.2 160.5,610.5 161.0,604.0 161.4,608.4 161.9,605.4 162.4,607.7 162.9,604.2 163.3,609.4 163.8,604.7 164.3,608.6 164.8,605.5 165.2,611.1 165.7,604.2 166.2,609.3 166.7,604.9 167.1,608.1 167.6,603.9 168.1,608.6 168.6,600.5 169.0,607.2 169.5,602.3 170.0,606.0 170.5,606.3 171.0,600.7 171.4,606.4 171.9,603.8 172.4,607.6 172.9,604.7 173.3,609.3 173.8,603.9 174.3,607.7 174.8,604.7 175.2,608.2 175.7,600.5 176.2,608.8 176.7,603.2 177.1,609.4 177.6,604.2 178.1,609.8 178.6,603.7 179.0,609.6 179.5,603.5 180.0,606.5 180.5,609.1 181.0,605.4 181.4,608.5 181.9,605.7 182.4,609.8 182.9,605.5 183.3,607.8 183.8,604.3 184.3,608.6 184.8,604.2 185.2,608.7 185.7,604.0 186.2,609.8 186.7,604.3 187.1,609.6 187.6,605.0 188.1,608.9 188.6,606.9 189.0,613.0 189.5,606.7 190.0,607.8 190.5,610.5 190.9,606.9 191.4,611.4 191.8,606.2 192.3,610.6 192.7,606.4 193.2,610.2 193.6,607.0 194.1,610.9 194.5,606.5 195.0,608.0 195.5,610.6 195.9,605.9 196.4,609.0 196.8,604.7 197.3,610.1 197.7,605.1 198.2,610.2 198.6,604.4 199.1,610.1 199.5,606.1 200.0,608.5 200.5,610.0 200.9,603.6 201.4,609.6 201.8,606.8 202.3,611.5 202.7,607.2 203.2,610.1 203.6,606.2 204.1,612.4 204.5,608.1 205.0,609.6 205.5,611.7 206.0,608.8 206.4,612.4 206.9,608.1 207.4,611.2 207.9,607.1 208.3,611.1 208.8,606.9 209.3,612.9 209.8,607.0 210.2,612.9 210.7,604.2 211.2,611.3 211.7,608.2 212.1,612.3 212.6,608.8 213.1,611.6 213.6,607.5 214.0,612.4 214.5,607.9 215.0,610.1 215.5,611.8 215.9,605.7 216.4,612.1 216.8,608.2 217.3,612.3 217.7,608.4 218.2,613.4 218.6,608.2 219.1,614.3 219.5,610.0 220.0,611.4 220.4,612.9 220.9,608.7 221.3,612.1 221.8,609.5 222.2,613.6 222.7,609.3 223.2,612.6 223.6,608.1 224.1,612.0 224.5,611.5 M225.6,611.5 226.0,607.2 226.5,612.0 226.9,609.1 227.4,612.6 227.8,608.6 228.2,613.4 228.7,610.4 229.1,613.5 229.6,611.6 230.0,613.2 230.5,614.5 231.0,609.5 231.5,616.6 232.0,610.1 232.5,614.6 233.0,610.4 233.5,616.3 234.0,610.8 234.5,614.8 235.0,612.1 235.5,616.7 236.0,611.2 236.5,615.1 237.0,610.4 237.5,615.2 238.0,610.4 238.5,614.2 239.0,610.6 239.5,617.2 240.0,613.2 240.5,608.5 241.0,615.6 241.4,608.6 241.9,615.8 242.4,607.4 242.9,614.1 243.3,610.5 243.8,615.9 244.3,611.1 244.8,615.5 245.2,612.0 245.7,614.5 246.2,611.1 246.7,616.6 247.1,611.6 247.6,615.5 248.1,611.7 248.6,615.3 249.0,612.4 249.5,615.2 250.0,613.5 250.5,610.4 251.0,615.8 251.4,611.4 251.9,615.1 252.4,609.9 252.9,616.3 253.4,610.2 253.8,615.9 254.3,610.3 254.8,615.0 255.3,608.7 255.8,616.1 256.2,611.7 256.7,614.5 257.2,611.0 257.7,615.2 258.2,610.6 258.6,616.0 259.1,612.3 259.6,616.3 260.1,608.3 260.6,615.7 261.0,612.1 261.5,615.9 262.0,614.0 M265.5,590.0 266.0,590.1 265.3,590.8 266.2,591.1 265.5,591.8 266.6,592.1 265.8,592.7 266.3,593.1 265.7,593.7 266.5,594.0 266.2,594.6 266.6,595.0 266.2,595.5 266.9,596.0 266.3,596.5 267.1,597.0 266.7,597.5 267.3,597.9 266.6,598.5 267.3,598.9 266.8,599.4 267.3,600.0 268.3,599.8 266.7,601.1 268.7,600.7 267.6,601.8 269.3,601.6 267.2,603.1 269.4,602.7 268.6,603.5 270.0,603.5 269.1,604.4 270.5,604.3 269.6,605.4 270.6,605.4 269.5,606.5 271.5,605.9 270.8,607.0 271.1,608.0 271.4,605.8 271.8,609.2 272.1,607.0 272.4,609.5 272.7,607.5 273.0,610.0 273.4,608.1 273.7,611.3 274.0,610.5 274.4,607.9 274.8,612.2 275.2,609.4 275.6,612.2 276.0,612.0 276.4,609.3 276.9,614.1 277.3,610.4 277.8,613.2 278.2,610.8 278.7,613.7 279.1,609.8 279.6,615.0 280.0,612.5 280.4,610.3 280.9,613.4 281.3,611.2 281.7,613.6 282.1,610.1 282.6,614.0 283.0,612.0 M284.0,611.0 284.4,609.7 284.9,612.6 285.3,610.5 285.8,613.0 286.2,608.3 286.6,613.4 287.1,610.6 287.5,612.0 M288.6,611.0 288.9,613.1 289.2,609.5 289.4,613.0 289.7,611.3 290.0,612.5 290.5,613.9 291.0,610.1 291.4,615.1 291.9,611.4 292.4,614.6 292.9,611.6 293.3,614.5 293.8,612.2 294.3,616.0 294.8,613.1 295.2,615.4 295.7,611.7 296.2,617.6 296.7,611.9 297.1,616.3 297.6,612.7 298.1,616.5 298.6,611.7 299.0,616.6 299.5,609.9 300.0,613.7 300.5,616.5 301.0,613.2 301.4,616.3 301.9,612.9 302.4,617.1 302.9,612.3 303.4,615.3 303.8,613.4 304.3,615.3 304.8,612.3 305.3,617.1 305.8,611.2 306.2,615.0 306.7,611.3 307.2,615.2 307.7,608.6 308.2,613.6 308.6,609.7 309.1,614.4 309.6,612.5 M310.8,612.0 311.3,608.8 311.8,612.5 312.3,609.8 312.7,613.8 313.2,610.4 313.7,613.2 314.2,608.9 314.7,613.6 315.2,610.1 315.6,612.4 316.1,610.4 316.6,613.2 317.1,608.3 317.6,614.4 318.1,609.9 318.5,613.0 319.0,609.4 319.5,612.6 320.0,612.7 320.5,609.9 321.0,612.4 321.5,609.9 322.0,613.1 322.5,610.3 322.9,613.7 323.4,609.6 323.9,613.4 324.4,609.5 324.9,614.1 325.4,609.6 325.9,613.9 326.4,610.4 326.9,615.1 327.4,609.2 327.8,612.5 328.3,607.5 328.8,612.4 329.3,610.0 329.8,612.7 330.3,612.0 M331.4,611.0 331.9,609.4 332.3,612.5 332.8,608.9 333.3,612.1 333.8,609.3 334.2,612.9 334.7,609.5 335.2,612.6 335.6,609.0 336.1,612.0 336.6,607.0 337.1,612.0 337.5,606.3 338.0,610.6 338.5,611.9 338.9,609.5 339.4,611.1 339.9,609.0 340.4,612.4 340.8,609.3 341.3,610.5 341.6,610.0 340.8,609.4 341.7,609.0 341.0,608.5 341.9,608.1 341.3,607.6 342.1,607.2 341.4,606.7 342.2,606.3 341.7,605.8 342.3,605.4 342.0,605.0 M352.5,603.5 352.8,604.5 353.1,602.9 353.4,605.4 353.8,603.8 354.1,606.4 354.4,604.9 354.7,606.8 355.0,606.0 355.4,603.7 355.9,608.2 356.3,602.1 356.7,607.9 357.1,602.9 357.6,605.6 358.0,604.5 358.3,601.9 358.7,607.0 359.0,602.9 359.4,605.7 359.7,601.9 360.1,604.3 360.4,601.5 360.8,605.0 361.1,599.8 361.5,603.0 361.8,601.0 362.1,598.8 362.4,603.9 362.8,600.9 363.1,603.7 363.4,600.5 363.7,606.0 364.0,600.8 364.4,605.8 364.7,603.3 365.0,604.5 365.4,607.1 365.7,604.0 366.1,606.4 366.4,602.8 366.8,608.0 367.2,604.2 367.5,607.9 367.9,604.3 368.2,609.6 368.6,607.5 369.1,604.4 369.6,608.9 370.1,605.3 370.5,608.7 371.0,601.6 371.5,609.8 372.0,607.5 372.5,605.4 372.9,610.7 373.4,603.8 373.9,611.1 374.4,607.3 374.8,611.5 375.3,607.0 375.8,609.6 376.2,607.1 376.7,611.2 377.2,606.6 377.6,610.6 378.1,607.2 378.6,610.8 379.1,606.1 379.5,611.0 380.0,610.0 380.5,608.3 381.0,611.7 381.4,607.3 381.9,612.3 382.4,609.0 382.9,612.7 383.3,607.9 383.8,612.0 384.3,608.3 384.8,613.5 385.2,605.3 385.7,612.8 386.2,609.3 386.7,615.4 387.1,608.8 387.6,612.0 388.1,608.8 388.6,612.5 389.0,607.7 389.5,612.2 390.0,610.5 390.5,608.4 391.0,613.3 391.5,608.9 392.0,612.2 392.5,608.5 393.0,613.3 393.5,610.1 394.0,614.2 394.5,609.9 395.0,614.1 395.5,609.0 396.0,612.8 396.5,608.8 397.0,611.9 397.5,609.7 398.0,613.3 398.5,607.9 399.0,613.3 399.5,609.0 400.0,610.5 400.5,612.4 401.0,607.7 401.4,612.7 401.9,609.0 402.4,611.7 402.9,609.6 403.3,615.6 403.8,608.5 404.3,613.2 404.8,609.1 405.2,613.3 405.7,608.4 406.2,612.8 406.7,608.2 407.1,612.5 407.6,609.1 408.1,612.9 408.6,604.6 409.0,611.8 409.5,607.7 410.0,610.0 410.5,612.4 411.0,607.3 411.5,611.9 412.0,608.6 412.5,611.8 413.0,607.4 413.5,610.8 414.0,608.0 414.5,610.9 415.0,607.5 415.5,610.3 416.0,606.2 416.5,611.1 417.0,608.2 417.5,614.9 418.0,605.6 418.5,612.0 419.0,607.9 419.5,611.3 420.0,610.0 420.5,609.1 421.0,611.3 421.5,607.6 422.0,612.5 422.4,607.8 422.9,612.3 423.4,608.4 423.9,611.1 424.4,607.4 424.9,611.2 425.4,607.9 425.9,611.2 426.4,608.2 426.9,612.5 427.3,607.0 427.8,611.8 428.3,607.2 428.8,610.5 429.3,609.0 M430.9,605.0 431.2,605.5 430.1,606.1 431.6,606.3 430.8,607.0 431.6,607.3 430.8,608.0 432.2,608.0 431.0,608.9 432.2,609.0 431.3,609.7 432.3,609.9 431.5,610.6 432.0,611.0 432.4,608.1 432.8,610.7 433.1,608.2 433.5,611.6 433.9,607.4 434.2,610.8 434.6,606.7 435.0,609.0 435.5,610.2 435.9,606.4 436.4,610.3 436.8,606.3 437.3,610.9 437.7,606.4 438.2,610.9 438.6,606.6 439.1,610.8 439.5,607.4 440.0,608.0 440.4,611.7 440.8,606.2 441.2,610.9 441.7,605.2 442.1,608.8 442.5,605.1 442.9,607.8 443.3,604.7 443.8,608.4 444.2,604.2 444.6,606.7 445.0,605.2 445.4,602.8 445.9,607.0 446.4,603.6 446.8,608.0 447.2,602.2 447.7,607.4 448.1,602.8 448.6,606.7 449.1,602.2 449.5,605.0 450.1,604.6 449.3,604.0 450.1,603.6 449.4,603.0 450.0,602.6 449.6,602.1 450.6,601.6 449.3,601.1 450.4,600.6 449.4,600.1 450.2,599.7 449.4,599.1 451.0,598.6 449.5,598.1 450.4,597.7 449.7,597.2 450.6,596.7 449.6,596.2 451.4,595.7 449.9,595.2 450.9,594.7 450.0,594.3 451.0,593.7 450.0,593.3 450.6,592.8 450.2,593.3 451.0,593.6 450.3,594.3 451.1,594.6 450.6,595.2 451.1,595.6 450.0,596.3 451.3,596.5 450.8,597.1 451.6,597.4 450.6,598.2 451.4,598.5 450.7,599.1 451.8,599.4 451.1,600.0 451.8,600.4 451.2,601.0 451.7,601.4 451.2,602.0 451.8,602.4 451.4,602.9 452.1,603.3 451.1,603.9 452.1,604.3 451.8,605.0 452.2,606.3 452.6,603.3 453.0,605.2 453.5,606.1 454.0,603.5 454.4,608.9 454.9,603.9 455.4,606.4 455.9,603.3 456.4,607.8 456.9,602.5 457.4,607.5 457.8,603.7 458.3,609.0 458.8,604.5 458.4,604.1 459.1,603.8 458.5,603.2 459.6,602.9 458.4,602.2 459.5,601.9 458.6,601.3 459.8,601.1 458.7,600.3 459.7,600.1 458.7,599.4 459.8,599.1 458.7,598.5 459.6,598.1 459.0,597.6 459.7,597.2 459.3,596.7 460.0,596.3 459.3,595.7 459.6,595.0 459.1,595.8 459.9,596.2 459.1,596.7 460.0,597.2 459.5,597.7 460.2,598.1 459.7,598.6 460.5,599.1 459.5,599.6 460.3,600.0 459.5,600.5 460.5,601.0 459.6,601.5 460.5,601.9 459.9,602.5 460.7,602.9 460.2,603.4 460.9,603.8 460.2,604.4 460.5,604.5 460.9,603.5 461.2,607.5 461.6,603.7 462.0,605.5 462.5,608.6 462.9,604.0 463.4,608.4 463.9,602.5 464.4,606.4 464.8,601.6 465.3,605.9 465.8,602.5 466.2,606.4 466.7,602.8 467.2,605.8 467.6,603.3 468.1,605.8 468.6,601.9 469.1,605.8 469.5,602.0 470.0,604.8 470.5,606.8 470.9,601.5 471.4,606.4 471.8,602.0 472.3,606.5 472.7,602.6 473.2,606.1 473.6,601.2 474.1,606.7 474.5,601.2 475.0,603.5 475.5,605.7 476.0,601.0 476.5,604.8 476.9,598.2 477.4,605.3 477.9,602.2 478.4,604.4 478.9,603.0 M481.5,602.6 481.9,601.1 482.3,602.9 482.7,600.1 483.1,604.1 483.4,599.4 483.8,602.9 484.2,599.4 484.6,601.7 485.0,600.0 485.3,599.1 485.5,602.7 485.8,598.2 486.1,601.0 486.4,597.0 486.6,599.5 486.9,596.1 487.2,600.9 487.5,595.1 487.7,598.7 488.0,595.8 486.6,595.3 489.4,595.1 487.8,594.6 489.6,594.0 487.4,593.5 490.8,593.0 487.0,592.4 490.8,592.0 488.4,591.4 490.4,590.8 490.0,590.7 488.9,589.9 491.1,589.5 489.8,588.8 491.7,588.7 489.4,587.8 492.1,587.8 490.6,586.8 492.1,586.8 490.2,585.7 492.8,586.0 490.9,584.8 493.1,585.1 492.0,584.7 M496.1,496.0 496.5,496.4 495.8,496.9 496.5,497.3 495.9,497.9 496.7,498.3 496.2,498.8 496.8,499.3 496.0,499.8 496.7,500.2 496.4,500.7 496.9,501.2 496.3,501.7 497.0,502.2 496.4,502.7 497.1,503.1 496.6,503.6 497.1,504.1 496.7,504.6 497.3,505.0 496.5,505.6 497.3,506.0 496.7,506.5 497.6,506.9 496.5,507.5 497.3,508.0 498.0,508.3 496.8,509.0 497.7,509.3 497.2,509.9 498.2,510.2 497.0,510.9 498.0,511.2 497.3,511.8 498.7,512.1 497.6,512.7 498.5,513.1 497.5,513.7 498.3,514.1 497.5,514.7 498.8,515.0 497.6,515.7 498.7,516.0 498.0,516.6 499.2,516.9 497.3,517.7 499.0,518.0 498.3,518.5 499.1,518.9 498.4,519.5 498.8,520.0 499.1,520.3 498.5,520.9 499.5,521.2 498.4,521.9 499.5,522.2 498.9,522.8 499.7,523.2 498.5,523.8 500.0,524.1 499.0,524.7 500.0,525.0 498.7,525.7 500.0,526.0 499.3,526.6 499.9,527.0 499.4,527.6 500.2,527.9 499.5,528.5 500.5,528.9 499.3,529.6 500.6,529.8 499.4,530.5 500.4,530.8 499.8,531.4 500.2,532.0 500.6,532.3 499.6,532.9 500.8,533.3 499.8,533.9 500.9,534.2 499.9,534.8 501.1,535.2 500.1,535.8 501.3,536.2 500.2,536.8 501.0,537.2 500.2,537.7 501.3,538.2 500.2,538.7 501.6,539.2 500.6,539.7 501.4,540.2 500.8,540.6 501.9,541.2 500.2,541.7 501.5,542.2 500.9,542.6 501.7,543.2 501.1,543.6 501.9,544.2 501.1,544.6 502.1,545.2 501.2,545.6 502.3,546.1 501.0,546.5 502.2,547.1 501.2,547.5 502.4,548.1 501.5,548.6 502.3,549.1 501.2,549.5 502.3,550.1 501.5,550.5 502.1,551.0 503.3,551.2 501.3,552.0 503.3,552.2 501.1,553.0 503.3,553.2 501.7,554.1 504.0,554.0 502.5,554.9 503.8,555.0 502.7,555.9 503.9,556.0 502.7,556.9 504.0,556.9 502.7,557.9 504.6,557.8 502.5,558.9 504.9,558.8 503.0,559.8 504.7,559.8 503.2,560.7 504.2,561.0 505.6,560.8 503.8,562.1 506.6,561.1 504.2,563.0 506.5,562.4 504.5,563.9 507.1,562.8 504.6,565.0 507.5,563.8 504.6,566.0 508.2,564.7 505.7,566.7 507.0,566.6 507.3,565.0 507.6,567.7 508.0,565.6 508.3,569.3 508.6,565.7 508.9,570.1 509.3,565.8 509.6,571.6 509.9,569.5 510.4,568.6 510.8,571.6 511.3,567.4 511.8,570.2 512.2,567.6 512.7,568.8 513.1,570.1 513.5,567.9 513.9,574.5 514.3,566.9 514.7,568.5 M516.4,566.0 516.8,567.8 517.1,565.4 517.5,567.7 517.8,565.8 518.2,567.0 518.8,566.7 518.0,566.2 518.6,565.7 518.0,565.2 518.5,564.7 518.0,564.2 518.7,563.7 518.2,563.2 518.5,562.7 518.1,562.2 518.6,561.7 518.0,561.2 518.8,560.7 518.1,560.2 518.8,559.7 518.2,559.2 518.6,558.7 518.1,558.2 518.7,557.7 518.4,557.2 518.9,556.7 518.3,556.2 519.1,555.7 518.4,555.2 519.4,554.7 518.3,554.2 519.0,553.7 518.3,553.2 519.1,552.7 518.3,552.2 518.9,551.7 518.5,551.2 519.4,550.7 518.5,550.2 518.8,549.6 518.7,550.3 519.6,550.6 518.7,551.2 519.0,551.7 518.7,552.2 519.2,552.7 518.7,553.2 519.1,553.7 518.7,554.2 519.2,554.7 518.7,555.2 519.4,555.6 518.5,556.2 519.4,556.6 518.6,557.2 519.5,557.6 518.7,558.2 519.3,558.6 518.9,559.2 519.6,559.5 518.8,560.2 519.5,560.6 518.9,561.2 519.7,561.5 518.9,562.2 519.5,562.5 519.1,563.1 519.5,563.5 519.0,564.2 519.6,564.5 519.0,565.2 519.5,565.5 519.2,566.1 519.7,566.5 519.4,567.0 519.8,568.1 520.3,564.6 520.7,569.9 521.1,566.4 521.6,569.6 522.0,564.8 522.5,569.6 522.9,568.0 522.5,567.3 523.1,566.9 522.6,566.4 523.3,566.0 522.5,565.4 523.2,565.0 522.8,564.4 523.4,564.0 522.6,563.4 523.5,563.0 522.9,562.5 523.4,562.0 522.9,561.5 523.3,561.0 522.9,560.5 523.5,560.0 522.7,559.5 523.6,559.1 522.8,558.5 523.6,558.1 523.0,557.6 523.7,557.1 523.1,556.6 523.9,556.1 523.2,555.6 523.6,555.1 523.0,554.6 523.7,554.1 523.1,553.6 523.4,553.2 523.3,553.6 523.7,554.1 523.0,554.6 523.6,555.1 522.9,555.6 523.8,556.1 523.1,556.6 523.9,557.1 523.4,557.6 524.0,558.0 523.4,558.6 524.0,559.0 523.2,559.6 523.8,560.0 523.4,560.5 523.9,561.0 523.5,561.5 524.1,562.0 523.5,562.5 524.0,563.0 523.4,563.5 524.1,564.0 523.6,564.5 524.3,565.0 523.7,565.5 524.1,566.0 523.5,566.5 524.4,566.9 523.6,567.4 524.0,568.0 524.5,566.5 525.0,570.6 525.5,566.6 526.0,569.1 526.5,565.8 527.0,568.5 527.5,568.0 527.3,567.4 527.8,567.0 527.2,566.4 528.1,566.1 527.1,565.4 528.0,565.1 527.4,564.5 528.2,564.1 527.2,563.6 528.2,563.2 527.5,562.7 528.4,562.2 527.3,561.7 528.4,561.3 527.4,560.8 529.0,560.3 527.4,559.8 528.0,559.5 527.5,559.9 528.3,560.3 527.7,560.8 528.7,561.2 527.9,561.8 528.9,562.1 527.9,562.8 528.5,563.1 527.7,563.7 528.8,564.0 527.9,564.6 528.6,565.0 528.2,565.6 528.9,565.9 528.0,566.6 529.1,566.8 528.0,567.5 528.6,568.0 529.0,564.0 529.4,568.7 529.9,565.2 530.3,568.3 530.7,563.8 531.1,567.0 M535.5,565.0 534.4,563.3 536.4,563.5 534.2,562.1 537.0,562.7 535.1,561.7 537.8,562.0 534.6,560.4 537.4,560.8 535.3,559.7 538.0,560.0 534.9,558.6 539.0,559.4 536.0,557.8 539.3,558.6 536.5,557.0 538.9,557.4 536.4,555.9 539.0,556.4 536.8,555.1 540.1,555.9 538.3,555.3 536.7,553.5 540.3,554.4 537.9,553.0 540.9,553.3 537.4,551.7 540.0,552.3 537.4,550.7 540.2,551.3 537.9,549.9 541.7,550.9 537.8,548.8 541.7,549.9 539.3,548.4 541.1,548.2 539.3,547.4 541.6,547.7 538.9,546.1 542.6,547.2 539.2,545.2 541.8,545.9 541.1,545.3 541.3,542.9 541.5,547.5 541.7,544.3 541.9,548.3 542.2,546.0 542.4,549.9 542.6,545.9 542.8,551.0 543.0,549.0 543.2,548.2 543.4,551.8 543.6,548.3 543.9,552.5 544.1,550.1 544.3,553.0 544.5,551.5 544.7,552.4 M549.2,544.0 548.2,544.6 550.9,544.5 548.6,545.6 550.5,545.6 549.2,546.5 550.4,546.7 549.2,547.5 550.9,547.5 548.5,548.5 550.8,548.5 549.5,549.3 551.0,549.4 549.8,550.2 550.9,550.4 549.7,551.2 551.1,551.3 550.2,552.1 551.7,552.3 550.1,553.1 551.3,553.3 551.0,553.9 551.3,555.4 551.5,551.9 551.8,556.4 552.1,551.4 552.3,556.9 552.6,553.6 552.8,558.9 553.1,554.6 553.4,558.4 553.6,556.7 553.9,558.1 554.3,559.7 554.6,557.5 555.0,559.9 555.3,558.0 555.7,560.7 556.1,558.8 556.4,561.5 556.8,558.1 557.1,562.5 557.5,557.3 557.8,563.5 558.2,561.0 558.6,563.1 558.9,561.4 559.3,564.0 559.6,561.0 560.0,563.8 560.5,565.2 561.0,561.3 561.4,564.5 561.9,562.2 562.4,565.2 562.8,560.8 563.3,565.2 563.8,564.3 563.3,563.4 564.5,563.0 563.7,562.5 564.6,562.1 563.8,561.5 564.7,561.1 563.6,560.5 564.7,560.2 563.8,559.6 564.9,559.3 563.9,558.6 565.5,558.4 564.6,558.2 565.3,558.2 564.4,558.7 565.1,559.2 564.5,559.7 565.3,560.1 564.7,560.6 565.3,561.1 564.6,561.6 565.6,562.0 564.8,562.5 565.7,563.0 564.9,563.5 565.6,563.9 565.3,564.8 565.8,566.2 566.2,562.7 566.7,565.7 567.2,562.3 567.6,567.0 568.1,563.1 568.6,566.7 569.1,563.8 569.5,567.9 570.0,566.3 570.5,564.1 570.9,568.8 571.4,563.6 571.8,568.8 572.3,565.2 572.8,569.0 573.2,565.2 573.7,568.6 574.1,565.5 574.6,567.9 575.0,564.8 575.5,567.5 576.0,566.8 575.2,566.2 575.9,565.8 575.3,565.2 575.9,564.8 575.1,564.2 575.9,563.9 575.4,563.3 576.1,562.9 575.4,562.3 576.2,562.0 575.5,561.4 576.2,561.0 575.4,560.4 576.2,560.1 575.4,559.4 576.2,559.1 575.7,558.5 576.3,558.1 575.4,557.5 576.0,557.4 575.4,557.6 576.3,558.1 575.6,558.6 576.5,559.1 575.9,559.6 576.5,560.1 575.9,560.6 576.8,561.1 575.8,561.6 576.5,562.1 576.0,562.6 576.7,563.1 575.9,563.6 576.6,564.1 576.2,564.6 576.7,565.1 576.1,565.6 576.8,566.1 575.5,566.6 576.9,567.1 576.6,567.8 577.1,569.6 577.6,564.6 578.1,570.1 578.5,566.6 579.0,569.4 579.5,565.6 580.0,568.3 580.5,571.4 580.9,567.4 581.4,570.6 581.8,567.6 582.3,570.6 582.7,566.7 583.2,571.1 583.6,566.5 584.1,574.4 584.5,567.8 585.0,569.6 585.5,571.0 585.9,567.3 586.4,572.0 586.9,568.0 587.4,571.1 587.8,567.4 588.3,572.1 588.8,566.9 589.2,572.3 589.7,570.5 589.5,569.8 589.9,569.3 589.4,568.8 590.1,568.3 589.4,567.8 590.1,567.4 589.6,566.9 590.1,566.4 589.5,565.9 590.3,565.4 589.6,564.9 590.1,564.4 589.6,563.9 590.1,563.5 589.8,563.0 590.2,562.5 589.7,562.0 590.1,561.5 589.8,561.0 590.4,560.6 589.7,560.1 590.3,559.6 589.8,559.1 590.3,558.6 589.9,558.1 590.3,557.7 589.7,557.1 590.4,556.7 589.7,556.2 590.5,555.7 589.9,555.2 590.5,554.8 589.9,554.2 590.2,554.0 589.8,554.3 590.4,554.7 589.5,555.2 590.4,555.7 590.1,556.2 590.6,556.7 590.1,557.2 590.5,557.7 590.2,558.1 590.7,558.6 590.0,559.1 590.7,559.6 590.0,560.1 590.6,560.6 590.3,561.1 590.6,561.6 590.3,562.0 590.7,562.5 590.2,563.0 590.9,563.5 590.3,564.0 590.7,564.5 590.4,565.0 590.8,565.5 590.3,565.9 591.0,566.4 590.3,566.9 590.9,567.4 590.3,567.9 591.0,568.4 590.2,568.8 591.4,569.4 590.6,569.8 591.0,570.3 590.8,571.0 591.3,575.6 591.7,569.8 592.2,572.9 592.7,567.5 593.1,572.3 593.6,569.8 594.1,573.5 594.5,570.0 595.0,572.4 595.4,573.9 595.9,571.1 596.3,573.5 596.7,569.7 597.2,574.7 597.6,572.5 597.3,571.7 597.9,571.2 597.1,570.8 598.0,570.2 597.5,569.8 598.3,569.3 597.2,568.8 598.0,568.2 597.3,567.8 598.0,567.3 597.6,566.8 598.3,566.3 597.4,565.9 598.3,565.4 597.3,564.9 598.1,564.3 597.5,563.9 598.2,563.4 597.6,562.9 598.2,562.4 597.7,561.9 598.5,561.5 597.7,560.9 598.0,560.8 597.6,561.0 598.4,561.4 597.7,562.0 598.6,562.4 597.7,563.0 598.4,563.4 597.8,563.9 598.6,564.4 597.7,564.9 598.5,565.4 597.9,565.9 598.5,566.4 597.7,566.9 598.5,567.4 597.8,567.9 598.7,568.4 597.9,568.8 599.0,569.4 597.8,569.8 598.7,570.3 598.1,570.8 599.0,571.3 598.3,571.8 598.5,572.6 599.0,569.9 599.4,573.1 599.9,569.0 600.3,573.8 600.8,570.2 601.2,573.8 601.6,571.6 602.1,573.4 602.5,570.5 603.0,573.0 603.6,572.4 602.8,571.9 603.4,571.4 602.7,570.9 603.4,570.5 602.9,570.0 603.7,569.5 602.7,569.0 603.4,568.5 602.8,568.0 603.7,567.6 603.0,567.1 603.5,566.6 602.9,566.1 603.4,565.6 602.8,565.2 603.4,564.7 602.8,564.2 603.9,563.7 602.9,563.2 604.3,562.7 602.8,562.3 603.7,561.8 602.5,561.3 603.5,560.8 602.9,560.3 603.8,559.8 603.1,559.4 603.4,559.0 603.2,559.4 603.9,559.8 602.9,560.4 603.9,560.8 603.1,561.4 603.7,561.8 602.6,562.4 603.9,562.8 603.2,563.3 604.1,563.8 603.2,564.3 604.1,564.7 603.4,565.3 604.0,565.7 603.2,566.3 604.2,566.7 603.4,567.3 604.7,567.7 603.4,568.3 604.4,568.7 603.2,569.3 604.3,569.7 603.7,570.2 604.2,570.7 603.4,571.2 604.5,571.6 603.6,572.2 604.3,572.6 604.0,573.3 604.4,574.3 604.8,571.7 605.2,575.4 605.6,572.3 606.0,573.8 606.5,574.6 606.9,571.8 607.4,574.4 607.8,570.3 608.3,575.0 608.8,569.4 609.2,574.7 609.7,571.4 610.2,574.5 610.6,571.4 611.1,574.6 611.5,571.9 612.0,574.2 612.5,575.1 612.9,571.7 613.4,575.5 613.9,572.8 614.4,575.9 614.8,573.3 615.3,575.1 615.8,572.8 616.2,576.7 616.7,571.1 617.2,574.7 617.6,570.9 618.1,578.5 618.6,571.2 619.1,577.6 619.5,571.1 620.0,572.8 620.4,572.9 620.9,568.0 621.3,577.0 621.7,569.7 622.2,574.2 622.6,569.5 623.0,573.7 623.4,569.7 623.9,571.9 624.3,568.9 624.7,573.3 625.2,569.1 625.6,570.5 626.0,571.8 626.3,568.4 626.6,571.7 627.0,569.5 626.4,568.9 627.3,568.4 626.7,567.9 627.5,567.4 626.8,566.9 627.4,566.4 626.9,565.9 627.4,565.4 626.9,565.0 627.4,564.4 626.7,564.0 627.6,563.4 626.9,563.0 627.5,562.5 626.8,562.0 627.7,561.5 626.8,561.0 627.6,560.5 626.7,560.0 627.7,559.5 626.7,559.0 627.7,558.5 627.1,558.1 627.6,557.5 627.0,557.1 627.7,556.6 627.0,556.1 627.6,555.6 627.2,555.1 627.8,554.6 627.2,554.1 628.0,553.6 627.1,553.1 628.0,552.6 627.2,552.2 627.5,551.8 627.3,552.2 628.0,552.6 627.2,553.2 628.3,553.5 627.4,554.1 628.2,554.5 626.8,555.2 628.0,555.5 627.5,556.1 628.2,556.5 627.4,557.1 628.2,557.5 627.5,558.0 628.1,558.5 627.6,559.0 628.1,559.4 627.6,560.0 628.1,560.4 627.3,561.0 628.4,561.4 627.6,562.0 628.2,562.4 627.1,563.0 628.4,563.4 627.4,564.0 628.2,564.4 627.7,564.9 628.6,565.3 627.5,565.9 628.4,566.3 627.4,566.9 628.5,567.3 627.8,567.8 628.1,568.5 628.5,566.1 629.0,570.2 629.4,566.3 629.9,568.4 630.3,565.9 630.8,567.6 631.2,564.3 631.6,568.8 632.1,564.5 632.5,568.6 633.0,563.7 633.4,566.0 633.7,565.3 633.2,564.8 633.7,564.3 632.9,563.9 633.8,563.3 633.1,562.9 633.8,562.4 633.2,561.9 633.9,561.4 633.1,561.0 634.2,560.5 633.4,560.0 634.0,559.5 633.4,559.1 634.0,558.5 633.4,558.1 634.0,557.6 632.9,557.2 634.2,556.6 633.6,556.2 634.3,555.7 633.5,555.2 633.9,555.0 633.1,555.3 634.9,555.6 633.4,556.2 634.5,556.6 633.5,557.2 634.7,557.5 633.9,558.1 634.6,558.5 633.7,559.0 634.7,559.4 633.9,560.0 634.5,560.4 633.9,560.9 634.9,561.3 633.5,562.0 634.8,562.3 633.8,562.9 634.7,563.2 634.1,563.8 634.8,564.2 634.5,565.0 634.9,566.4 635.4,561.3 635.8,565.8 636.2,561.3 636.7,565.8 637.1,561.7 637.5,564.6 638.0,561.2 638.4,564.0 638.8,565.4 639.3,559.8 639.7,563.4 640.2,560.1 640.6,564.7 641.0,559.7 641.5,563.8 641.9,559.9 642.4,563.9 642.8,557.1 643.3,562.8 643.7,558.4 644.1,563.1 644.6,558.0 645.0,562.0 645.5,558.1 645.9,561.7 646.3,557.0 646.8,561.3 647.2,556.7 647.7,561.0 648.1,555.3 648.6,559.8 649.0,556.6 649.4,559.4 649.9,555.1 650.3,559.2 650.8,555.5 651.2,557.5 651.6,558.7 652.0,554.2 652.4,558.6 652.8,554.5 653.2,558.2 653.6,554.5 654.0,558.0 654.4,552.9 654.8,556.8 655.2,552.2 655.6,555.7 656.0,550.1 656.4,555.1 656.8,551.9 657.2,555.5 657.6,550.5 658.0,553.9 658.4,550.3 658.8,554.6 659.2,550.6 659.6,554.1 660.0,549.0 660.4,552.6 660.8,548.4 661.2,552.3 661.6,549.2 662.0,552.7 662.4,548.1 662.8,550.6 663.2,547.3 663.6,551.1 664.0,548.6 664.4,545.9 664.8,551.7 665.1,546.1 665.5,548.8 665.9,546.4 666.2,548.8 666.6,545.4 667.0,548.2 667.4,545.0 667.8,548.0 668.1,544.0 668.5,545.0 669.1,544.8 668.2,544.1 668.8,543.8 668.3,543.2 668.9,542.8 668.4,542.2 668.9,541.9 667.8,541.2 669.1,541.0 668.4,540.3 669.1,540.0 668.5,539.4 669.2,539.1 668.5,538.5 669.7,538.1 668.6,537.6 669.2,537.2 668.4,536.5 669.0,536.0 668.7,536.7 669.3,537.2 668.9,537.6 669.7,538.0 668.8,538.6 669.4,539.0 669.0,539.6 669.8,539.9 669.0,540.5 669.6,540.9 669.1,541.4 669.7,541.8 668.9,542.4 669.7,542.8 669.3,543.3 669.7,543.7 669.1,544.3 669.6,544.5 667.9,543.3 672.4,543.7 668.0,542.3 672.0,542.7 668.5,541.7 672.3,541.7 669.0,541.2 672.8,540.6 669.1,540.2 673.3,539.7 671.6,539.6 671.9,537.5 672.3,540.2 672.6,536.3 673.0,538.4 673.3,534.7 673.6,538.6 674.0,534.7 674.3,538.4 674.7,533.6 675.0,540.0 675.3,532.2 675.7,536.4 676.0,532.1 676.4,536.5 676.7,534.5 677.0,531.8 677.3,534.5 677.6,532.0 677.9,534.6 678.1,530.7 678.4,534.0 678.7,529.9 679.0,533.5 679.3,531.0 678.5,530.3 679.9,530.8 678.6,529.5 680.7,530.2 679.2,529.0 680.5,529.2 679.9,528.0 679.3,527.7 680.6,527.6 679.2,526.7 680.6,526.6 679.2,525.7 680.4,525.6 679.4,524.8 680.5,524.6 679.7,524.0 680.5,523.6 679.4,522.9 680.3,522.6 679.6,522.0 680.6,521.7 679.3,520.9 680.2,520.7 679.3,519.9 681.1,519.7 679.5,519.0 680.7,518.7 679.6,518.0 680.4,517.7 679.5,517.0 680.3,516.8 679.3,516.0 680.3,515.8 679.3,515.0 680.5,514.8 679.6,514.1 680.2,513.8 679.6,513.1 680.3,512.8 679.4,512.1 680.4,511.9 679.7,511.2 681.1,510.9 679.7,510.2 680.9,509.9 679.2,509.1 680.3,508.9 679.5,508.2 681.1,508.0 679.4,507.2 680.6,507.0 679.3,506.2 680.5,506.0 679.7,505.3 680.6,505.0 679.3,504.2 680.0,503.5 680.4,503.6 679.8,502.9 680.8,502.6 679.7,501.9 680.9,501.6 679.6,500.8 680.7,500.6 679.6,499.8 681.1,499.6 680.1,499.0 681.0,498.6 680.1,498.0 681.2,497.6 680.3,497.0 681.4,496.6 679.9,495.9 681.1,495.6 680.0,495.0 681.4,494.6 680.4,494.0 681.4,493.6 680.4,493.0 681.5,492.6 680.4,492.0 681.9,491.5 680.6,491.1 681.9,490.5 680.7,490.1 681.7,489.5 680.7,489.1 681.9,488.5 680.8,488.1 681.9,487.5 680.9,487.1 682.0,486.5 681.5,485.6 681.3,485.5 682.0,484.9 681.2,484.5 682.2,483.9 681.1,483.5 682.2,482.9 681.3,482.5 682.3,481.9 681.5,481.5 682.2,480.9 681.4,480.5 682.4,479.9 681.6,479.5 682.9,478.9 681.7,478.5 682.5,477.9 681.6,477.5 682.6,476.9 681.9,476.5 682.6,475.9 681.7,475.5 682.4,474.9 682.0,474.5 682.5,473.9 681.9,473.5 682.8,472.9 681.9,472.5 682.8,471.9 681.9,471.5 682.6,470.9 682.1,470.5 682.5,469.7 M685.1,477.7 685.0,478.2 685.4,478.6 685.0,479.2 685.4,479.6 684.9,480.2 685.6,480.6 684.9,481.2 685.4,481.6 685.1,482.1 685.6,482.6 685.0,483.1 685.6,483.6 685.0,484.1 685.8,484.5 685.3,485.1 685.6,485.6 685.2,486.1 685.7,486.5 685.4,487.1 685.8,487.5 685.2,488.1 685.7,488.5 685.4,489.1 685.6,489.6 685.9,490.0 685.5,490.5 685.9,490.9 685.3,491.5 685.8,491.9 685.4,492.5 686.1,492.9 685.2,493.5 686.2,493.9 685.3,494.5 686.0,494.9 685.4,495.5 686.7,495.9 685.6,496.4 686.2,496.9 685.6,497.4 686.4,497.8 685.4,498.4 686.6,498.8 685.1,499.5 686.4,499.8 685.7,500.4 686.2,500.8 685.5,501.4 686.1,501.8 685.7,502.4 686.3,502.8 685.6,503.3 686.5,503.8 685.7,504.3 686.5,504.8 685.6,505.3 686.5,505.8 685.7,506.3 686.3,506.8 685.8,507.3 686.4,507.7 685.6,508.3 686.3,508.7 685.4,509.3 686.5,509.7 685.7,510.3 686.6,510.7 686.0,511.2 686.4,511.7 685.5,512.3 686.4,512.7 686.1,513.2 686.4,513.7 685.8,514.2 686.7,514.7 685.9,515.2 686.3,515.8 685.4,514.9 687.4,515.0 686.2,514.0 688.0,514.2 686.1,512.9 687.8,513.1 686.4,512.0 687.5,512.0 688.3,511.6 687.4,510.9 688.0,510.6 687.4,509.9 688.2,509.6 687.5,508.9 688.6,508.7 687.8,508.0 688.6,507.7 687.5,506.9 689.6,506.9 687.8,506.0 689.2,505.8 688.0,505.0 689.3,504.8 688.1,504.1 689.4,503.8 688.1,503.1 689.3,502.8 689.0,502.2 689.7,502.7 688.5,503.3 689.6,503.7 688.6,504.3 689.7,504.7 688.9,505.3 689.9,505.7 688.9,506.3 690.1,506.6 689.2,507.2 690.3,507.6 690.0,508.0 690.4,510.0 690.8,507.5 691.2,511.0 691.6,506.8 692.0,509.0 694.0,509.8 690.9,507.9 694.2,508.8 691.0,506.8 694.0,507.6 691.3,505.9 694.4,506.8 692.7,505.6 695.1,506.0 692.4,504.3 695.6,505.2 692.5,503.3 695.6,504.1 693.3,502.6 696.0,503.3 693.4,501.6 696.3,502.2 693.4,500.5 696.2,501.1 694.4,499.8 696.9,500.0 696.0,498.8 695.8,498.7 696.7,498.2 695.8,497.7 697.0,497.2 695.6,496.7 697.5,496.1 696.1,495.8 697.3,495.2 696.2,494.8 698.2,494.1 695.8,493.8 698.0,493.1 696.8,492.8 698.0,492.1 696.7,491.8 698.1,491.1 697.0,490.8 697.9,490.2 697.3,489.8 698.6,489.2 696.4,488.9 698.4,488.2 697.6,487.8 699.0,487.3 697.8,486.7 698.6,486.3 697.3,485.8 699.0,485.3 698.5,485.0 698.3,484.4 698.9,484.0 698.5,483.5 699.1,483.0 698.7,482.5 699.4,482.1 698.8,481.6 699.2,481.1 698.8,480.6 699.9,480.2 699.1,479.7 699.7,479.2 699.1,478.7 699.5,478.4 699.3,478.8 699.8,479.2 699.3,479.8 700.0,480.2 699.4,480.7 700.5,481.1 699.5,481.7 700.2,482.1 699.7,482.6 700.0,483.1 699.8,483.6 700.1,484.1 699.7,484.6 700.5,485.0 700.0,485.5 700.3,486.0 699.9,486.5 700.5,487.0 700.1,487.5 700.6,488.0 699.9,488.5 700.6,488.9 700.3,489.4 700.8,489.9 700.2,490.4 701.0,490.9 700.3,491.4 701.0,491.9 700.5,492.4 701.1,492.8 700.5,493.4 701.0,493.8 700.6,494.3 701.1,494.8 701.0,495.4 700.1,495.6 702.0,495.6 700.9,496.6 702.0,496.6 700.6,497.6 702.3,497.6 700.5,498.6 702.1,498.6 700.7,499.6 702.0,499.6 700.9,500.6 702.2,500.6 701.1,501.5 702.6,501.5 701.5,502.3 702.3,502.5 701.2,503.4 702.7,503.5 701.1,504.4 702.5,504.5 701.7,505.1 702.7,505.5 701.8,506.1 702.8,506.5 702.0,507.0 703.1,507.5 702.1,508.0 703.3,508.5 702.1,508.9 703.5,509.5 702.3,509.9 703.4,510.4 702.6,510.9 703.5,511.4 703.0,512.4 704.8,511.7 701.7,510.3 705.2,510.6 702.8,509.6 704.7,509.7 702.4,508.4 704.7,508.7 701.3,507.3 705.0,507.6 703.7,507.0 705.7,506.4 703.8,506.1 706.2,505.4 703.2,504.7 705.9,504.4 704.2,504.2 706.4,503.4 704.2,503.1 708.2,503.5 705.0,502.1 706.7,501.4 706.0,502.2 704.9,500.6 707.3,500.2 705.3,499.5 707.5,499.4 704.9,498.6 710.1,499.7 706.4,497.3 708.2,498.0 705.4,496.4 707.9,496.8 706.0,495.3 708.3,496.0 705.9,494.3 708.7,495.2 707.0,493.4 710.0,494.6 707.1,492.4 709.7,493.5 706.9,491.4 710.2,492.7 706.8,490.3 709.0,492.0 710.0,491.3 708.3,490.4 710.0,490.3 708.7,489.5 710.1,489.3 708.7,488.5 710.7,488.5 708.9,487.6 710.5,487.5 709.3,486.7 710.9,486.6 709.5,485.7 710.8,485.6 709.3,484.7 711.4,485.0 709.7,483.8 711.0,483.7 709.8,482.8 711.6,483.1 710.1,481.9 711.0,482.0 712.0,481.9 710.9,480.8 711.6,480.7 711.0,479.9 712.1,480.0 711.3,479.1 712.3,479.0 712.0,478.4 712.5,478.8 712.0,479.5 712.6,479.7 712.0,480.4 712.9,480.6 711.6,481.4 712.9,481.6 712.4,482.2 713.3,482.5 712.4,483.2 713.3,483.4 712.7,484.1 713.2,484.4 712.9,485.0 713.6,485.3 713.1,485.9 713.6,486.3 713.2,486.9 713.7,487.3 713.4,487.8 714.0,488.2 713.6,488.8 714.3,489.1 713.5,489.7 714.0,490.3 714.9,490.0 713.6,491.1 715.8,490.9 713.5,492.3 715.9,492.0 714.2,493.0 716.0,493.0 715.1,493.7 716.7,494.0 715.0,494.8 717.5,494.9 715.2,495.9 717.3,496.1 715.7,496.9 717.0,497.1 717.2,495.2 717.5,498.1 717.8,494.2 718.0,498.5 718.2,493.3 718.5,496.9 718.8,493.5 719.0,496.6 719.2,493.0 719.5,494.9 719.8,492.2 720.0,492.0 721.0,492.6 718.8,491.0 721.9,491.8 719.8,490.5 721.4,490.6 720.1,489.5 722.0,489.6 720.6,488.7 722.2,488.5 721.2,487.8 723.4,487.8 721.9,486.9 722.5,486.0 723.0,485.8 722.4,485.2 723.1,484.8 722.4,484.3 723.3,483.9 722.9,483.3 723.6,483.0 722.7,482.4 723.3,481.8 723.1,482.5 723.6,482.9 723.3,483.4 723.9,483.8 723.3,484.4 724.0,484.8 723.5,485.4 724.2,485.8 723.5,486.3 724.2,486.8 723.9,487.3 724.6,487.7 724.0,488.2 724.5,488.7 724.0,489.2 724.7,489.7 724.5,490.0 724.0,491.1 727.5,490.0 723.9,492.2 727.1,491.1 725.5,492.0 726.1,492.3 722.9,491.1 726.8,491.3 724.8,490.6 727.4,490.5 725.1,489.8 727.2,489.4 723.7,488.1 727.3,488.4 725.8,487.8 727.6,487.5 725.2,486.8 728.8,487.1 725.9,485.8 727.8,485.6 724.5,484.4 728.6,485.0 726.3,483.8 728.8,484.0 726.0,482.8 729.0,483.2 726.8,481.8 729.1,482.2 726.4,480.8 728.4,480.8 726.6,479.8 729.1,480.2 728.0,478.4 726.6,478.1 729.3,478.8 727.0,477.1 729.8,477.8 727.8,476.5 730.5,476.8 727.4,475.3 730.3,475.8 728.5,474.9 730.1,474.8 728.1,473.6 730.5,473.8 729.0,473.2 731.0,472.9 729.2,472.2 731.4,471.9 729.3,471.1 731.9,470.9 729.8,470.2 732.0,469.9 729.1,469.1 731.0,468.1 732.7,468.4 730.2,467.7 732.1,467.3 730.0,466.7 732.6,466.4 730.8,465.8 732.5,465.3 730.6,464.7 733.5,464.5 730.9,463.8 732.8,463.4 730.7,462.7 733.7,462.5 730.8,461.7 733.7,461.5 731.2,460.7 734.2,460.5 731.3,459.7 733.9,459.5 731.2,458.7 733.0,457.9 734.2,457.9 731.9,457.2 734.9,456.9 732.2,456.2 734.3,455.8 732.3,455.2 734.5,454.8 732.6,454.3 734.5,453.8 733.1,453.3 734.2,452.8 733.2,452.3 734.6,451.8 733.3,451.3 735.0,450.8 733.3,450.3 735.1,449.9 733.4,449.3 734.9,448.8 733.1,448.3 735.7,448.1 733.6,447.3 734.9,446.8 733.8,446.3 737.0,445.6 734.2,445.3 735.4,445.0 733.6,444.3 735.4,443.9 734.1,443.3 735.0,442.6 735.3,442.4 734.3,441.8 735.5,441.4 734.4,440.8 736.1,440.5 734.6,439.8 735.8,439.6 734.7,438.8 735.9,438.6 734.9,437.9 736.0,437.6 735.0,436.9 736.2,436.6 735.1,435.9 735.9,435.7 734.8,434.9 736.4,434.6 735.4,434.0 736.1,433.7 735.4,433.1 736.7,432.5 735.5,432.1 736.7,431.5 735.3,431.1 736.4,430.6 735.5,430.2 737.6,429.4 735.6,429.2 736.6,428.6 735.4,428.2 737.1,427.4 735.5,427.2 737.1,426.5 736.1,426.4 736.5,425.6 736.9,425.1 736.4,424.7 737.0,424.1 736.5,423.7 737.2,423.2 736.7,422.7 737.1,422.2 736.6,421.7 737.2,421.2 736.8,420.7 737.5,420.3 736.9,419.7 737.9,419.3 737.0,418.7 737.8,418.3 737.3,417.8 737.8,417.4 737.4,416.8 738.1,416.4 737.5,415.9 738.1,415.5 737.7,414.9 738.4,414.5 737.8,414.0 738.3,413.5 737.6,412.9 738.4,412.6 738.0,412.0 738.7,411.7 738.1,411.0 738.8,410.7 738.5,410.2 738.8,410.6 738.3,411.2 738.8,411.6 738.5,412.1 738.9,412.6 738.6,413.1 739.0,413.6 738.6,414.2 739.2,414.6 738.8,415.1 739.6,415.6 738.7,416.2 739.3,416.6 738.8,417.1 739.6,417.6 739.0,418.1 739.6,418.6 739.1,419.1 739.8,419.5 739.2,420.1 739.9,420.5 739.4,421.1 739.9,421.5 739.4,422.1 740.1,422.5 739.6,423.1 739.9,423.5 739.7,424.1 740.5,424.4 739.7,425.1 740.0,425.6 740.9,425.5 739.5,426.5 740.5,426.7 739.3,427.5 740.9,427.5 739.4,428.5 740.8,428.5 739.7,429.5 740.9,429.5 739.4,430.5 740.7,430.6 739.8,431.5 740.9,431.5 739.6,432.5 741.1,432.5 740.1,433.4 741.1,433.5 740.0,434.4 741.4,434.4 739.7,435.5 741.0,435.5 740.0,436.4 741.0,436.5 739.9,437.4 741.2,437.5 739.9,438.4 741.4,438.4 740.3,439.3 741.3,439.4 740.3,440.3 741.5,440.4 740.0,441.4 741.1,441.5 740.2,442.3 742.1,442.4 740.6,443.1 741.8,443.4 740.2,444.3 741.3,444.4 740.7,445.1 741.5,445.4 740.4,446.2 741.9,446.4 740.7,447.1 741.9,447.4 740.3,448.3 741.5,448.4 740.8,449.1 741.9,449.4 741.0,450.0 741.9,450.4 740.8,451.0 741.8,451.4 740.7,452.1 742.8,452.6 740.9,453.0 742.1,453.4 741.5,454.5 741.8,454.9 742.2,452.9 742.5,454.4 742.9,452.6 743.2,453.0 M745.4,458.0 745.8,459.4 746.1,457.4 746.5,458.0 747.7,458.1 745.9,457.1 747.7,457.1 745.0,455.7 747.7,456.1 746.1,455.2 747.9,455.2 745.9,454.2 747.9,454.2 745.8,453.1 748.3,453.2 746.7,452.5 747.9,452.2 746.3,451.4 748.1,451.2 746.7,450.5 748.4,450.2 746.9,449.6 748.2,449.2 746.9,448.6 748.4,448.2 747.0,447.7 748.7,447.2 746.4,446.5 749.1,446.1 746.8,445.6 748.4,445.3 747.1,444.7 748.8,444.2 747.0,443.7 748.8,443.2 747.1,442.8 749.5,442.1 747.6,441.8 749.2,441.2 747.7,440.9 750.4,440.2 747.7,439.9 749.6,439.1 748.1,438.9 748.6,438.0 749.2,437.7 748.1,437.1 749.6,436.7 748.2,436.1 749.8,435.7 748.7,435.1 749.8,434.7 748.8,434.1 750.1,433.7 749.2,433.1 749.6,432.6 749.0,433.2 750.3,433.5 749.3,434.2 750.2,434.5 749.1,435.2 750.3,435.5 749.5,436.1 750.7,436.5 749.4,437.2 750.2,437.5 749.7,438.1 750.2,438.5 749.5,439.1 750.5,439.5 749.7,440.1 750.4,440.5 749.8,441.1 750.6,441.5 749.7,442.1 750.8,442.5 749.8,443.0 750.6,443.5 749.8,444.0 750.8,444.5 750.0,445.0 750.9,445.5 749.9,446.0 751.1,446.5 750.5,447.0 752.3,447.0 749.4,445.6 752.9,446.4 749.5,444.6 752.3,445.0 750.4,443.9 754.2,444.8 750.3,442.8 753.7,443.6 750.5,441.9 754.8,443.0 748.2,440.4 753.0,441.5 753.2,442.0 753.5,438.8 753.8,441.3 754.0,434.4 754.2,440.0 754.5,436.1 754.8,440.8 755.0,436.3 755.2,439.0 755.5,435.5 755.8,439.5 756.0,436.4 754.6,435.1 760.5,436.7 754.1,434.0 758.0,435.2 755.3,433.4 759.0,434.2 755.2,432.3 759.0,433.2 755.3,431.4 759.7,432.2 755.4,430.5 759.5,431.2 756.2,429.8 758.0,430.0 759.0,429.7 756.5,428.2 759.8,428.9 756.2,427.1 760.1,428.0 757.6,426.7 760.4,427.1 757.7,425.7 761.1,426.7 758.3,424.9 760.0,425.0 760.3,424.5 759.7,423.9 760.5,423.5 759.7,422.9 760.5,422.5 760.0,421.9 760.6,421.5 760.0,420.9 760.5,420.5 760.1,419.9 760.7,419.6 760.0,418.9 760.6,418.5 759.8,417.9 760.9,417.6 760.3,417.0 760.9,416.6 760.2,416.0 760.7,415.6 760.3,415.0 760.9,414.6 760.2,414.0 761.1,413.7 760.4,413.0 761.1,412.7 760.4,412.0 761.0,411.6 760.4,411.0 761.1,410.7 760.5,410.0 761.2,409.7 760.5,409.0 761.3,408.7 760.8,408.1 761.0,407.6 760.6,408.1 761.4,408.7 760.9,409.1 761.4,409.6 760.8,410.1 761.7,410.6 761.0,411.1 761.6,411.6 761.2,412.1 761.7,412.6 761.2,413.1 762.0,413.6 761.2,414.0 762.0,414.6 761.4,415.0 762.0,415.6 761.4,416.0 762.3,416.6 761.6,417.0 762.2,417.5 761.5,418.0 762.5,418.5 761.6,418.9 762.3,419.5 761.7,419.9 762.4,420.5 761.8,420.9 762.4,421.5 761.8,421.9 762.8,422.5 762.1,422.9 762.9,423.5 762.5,423.6 761.8,424.8 763.9,425.2 761.8,425.7 764.4,426.2 761.7,426.7 763.7,427.3 761.8,427.8 763.8,428.3 762.7,429.0 764.9,429.2 761.9,429.8 764.3,430.2 762.4,430.9 764.6,431.2 763.0,432.1 764.0,431.3 765.5,432.8 762.3,434.0 766.7,433.4 763.5,434.9 766.8,434.5 764.0,435.7 767.1,435.3 764.3,436.7 766.4,436.9 764.6,437.7 766.0,436.4 764.5,436.5 767.5,436.5 765.2,435.8 767.7,435.4 764.6,434.6 767.5,434.5 765.2,433.8 768.0,433.3 765.8,433.2 767.5,432.5 765.9,432.3 767.5,431.6 766.5,431.3 767.9,430.4 765.8,430.3 768.3,429.4 766.8,429.3 768.5,428.3 766.9,428.3 768.1,427.4 767.3,427.2 769.3,426.4 767.4,426.2 768.0,425.0 768.4,424.7 767.9,424.2 768.5,423.7 767.8,423.3 768.6,422.7 767.9,422.3 768.5,421.8 768.2,421.3 768.8,420.8 768.2,420.3 768.9,419.8 768.2,419.3 769.0,418.8 768.3,418.3 769.0,417.8 768.4,417.3 769.1,416.9 768.4,416.4 769.2,415.9 769.0,415.3 769.6,415.8 768.9,416.4 769.5,416.8 768.9,417.4 769.5,417.8 768.6,418.5 769.8,418.8 769.1,419.4 770.2,419.8 769.2,420.4 770.0,420.8 769.4,421.4 770.2,421.8 769.6,422.3 770.1,422.8 769.5,423.4 770.4,423.7 769.6,424.4 770.5,424.7 769.6,425.4 770.6,425.7 770.0,426.3 770.6,426.7 770.1,427.3 770.6,427.7 769.9,428.4 770.5,428.7 771.6,428.7 769.9,430.0 771.5,429.8 769.8,431.0 771.9,430.5 770.3,431.9 771.7,431.6 770.0,433.0 771.5,432.8 770.4,433.9 772.2,433.3 770.7,434.8 771.7,434.6 770.6,435.8 772.4,435.3 770.7,436.8 772.3,436.3 770.2,437.9 772.1,437.4 770.9,438.7 772.8,438.1 771.0,439.7 773.8,439.2 771.4,440.3 772.9,440.1 772.0,441.5 772.4,443.2 772.9,438.7 773.3,442.3 773.7,440.1 774.1,444.4 774.6,439.7 775.0,442.8 775.4,443.7 775.8,439.7 776.1,442.8 776.5,439.2 776.9,441.5 777.2,437.3 777.6,441.2 778.0,440.3 777.0,439.0 779.7,439.8 777.6,438.4 779.8,438.8 777.9,437.6 779.3,437.7 778.2,436.8 779.7,436.8 777.7,435.6 780.5,436.0 778.1,434.8 780.4,435.0 778.3,433.9 781.1,434.2 778.8,433.2 780.4,433.1 778.8,432.2 780.0,432.0 780.5,431.6 779.9,431.0 780.5,430.6 780.0,430.0 780.9,429.6 779.9,429.0 780.8,428.6 780.0,428.0 780.9,427.7 780.3,427.1 781.2,426.7 780.4,426.1 781.1,425.7 780.6,425.1 781.3,424.7 781.0,424.2 781.3,424.7 780.7,425.2 781.6,425.6 780.9,426.1 781.7,426.5 781.1,427.1 782.0,427.5 781.2,428.0 781.6,428.5 781.1,429.0 781.8,429.4 781.0,430.0 781.8,430.4 781.1,431.0 782.2,431.3 781.6,431.9 782.1,432.3 781.6,432.9 782.2,433.3 782.0,433.8 782.7,433.4 780.7,432.2 783.7,432.7 782.0,431.6 784.3,431.9 782.0,430.5 784.0,430.7 782.2,429.5 784.5,429.9 782.4,428.5 784.0,428.7 783.0,429.3 785.3,429.2 783.7,430.1 785.6,430.1 783.5,431.2 785.8,431.1 783.7,432.2 785.7,432.2 784.6,433.0 786.0,433.0 784.3,434.1 786.7,433.9 784.9,435.0 787.3,434.8 784.8,436.1 786.0,436.4 788.2,436.1 784.7,437.6 787.3,437.3 785.0,438.5 787.4,438.3 784.6,439.6 788.7,439.3 785.7,440.2 789.3,440.1 785.8,441.2 788.1,441.2 786.7,442.0 789.9,441.6 785.6,443.3 789.1,443.4 788.0,444.1 788.4,446.2 788.9,441.1 789.3,445.6 789.7,441.4 790.1,447.9 790.6,439.3 791.0,442.8 792.5,442.3 789.8,441.2 793.0,441.8 790.5,440.1 793.0,440.8 789.3,439.4 792.4,439.3 790.4,438.2 793.6,439.0 790.8,437.2 794.9,438.3 791.5,436.3 793.8,437.2 791.9,435.4 794.0,436.3 791.4,434.3 793.9,435.2 792.2,433.7 793.0,433.8 793.5,433.4 792.9,432.8 793.7,432.5 792.8,431.7 793.6,431.5 792.9,430.8 793.9,430.5 793.2,429.9 793.9,429.5 793.2,428.9 793.9,428.5 793.4,427.9 794.0,427.6 793.6,427.0 794.3,426.6 793.5,426.0 794.4,425.6 793.9,425.1 794.7,424.6 793.8,424.1 794.7,423.6 794.2,423.1 794.7,422.7 794.2,422.1 795.1,421.7 794.3,421.1 794.9,420.7 794.2,420.1 795.4,419.8 794.3,419.2 795.1,418.7 794.6,418.2 795.3,417.8 795.1,417.2 795.6,417.8 795.0,418.3 795.7,418.8 794.9,419.3 795.9,419.8 795.2,420.3 795.8,420.8 795.3,421.3 795.9,421.8 794.8,422.3 796.1,422.8 795.5,423.3 796.2,423.9 795.7,424.3 796.6,424.9 795.9,425.3 796.5,425.9 796.1,426.4 796.9,427.0 796.1,427.4 796.8,427.9 796.3,428.4 797.2,429.0 796.4,429.4 797.8,429.9 796.5,430.4 797.5,430.9 796.6,431.5 797.3,432.0 796.3,432.4 797.4,433.0 796.9,433.5 797.8,433.9 797.0,434.5 797.7,434.9 797.0,435.5 798.0,435.9 797.7,436.0 798.6,436.5 797.1,435.6 799.3,435.6 797.9,434.9 799.5,434.6 797.3,433.6 800.1,433.9 798.3,432.9 800.1,432.8 798.3,431.9 800.9,432.2 799.1,430.8 801.1,431.3 798.8,429.8 801.6,430.4 800.0,429.2 801.3,429.3 800.9,428.0 802.0,428.8 800.4,429.7 801.9,429.9 800.3,430.7 802.9,430.3 801.0,431.6 803.0,431.3 801.1,432.6 802.4,432.6 800.9,433.7 802.8,433.4 801.7,434.5 803.0,434.3 802.0,435.4 803.8,435.4 801.8,436.5 803.8,436.4 802.2,437.4 804.1,437.5 802.3,438.3 804.3,438.5 803.1,438.9 804.6,439.5 802.9,440.0 804.8,440.6 803.3,441.0 804.1,441.0 802.0,440.7 805.6,441.8 803.0,439.3 805.5,440.7 803.4,438.7 808.9,440.5 803.7,437.8 806.4,438.9 804.0,437.0 806.6,437.9 804.1,436.1 808.2,436.8 805.2,435.9 809.1,436.3 806.7,434.0 806.4,433.9 807.2,433.4 806.6,432.9 807.0,432.4 806.6,431.9 807.3,431.4 806.5,430.9 807.3,430.4 806.6,430.0 807.3,429.5 806.8,429.0 807.3,428.5 806.8,428.0 807.4,427.5 806.9,427.0 807.7,426.5 806.8,426.1 807.4,425.5 806.9,425.1 807.6,424.5 806.8,424.1 807.6,423.5 806.9,423.1 807.8,422.5 806.8,422.1 807.9,421.5 807.1,421.2 808.5,420.6 807.2,420.2 808.0,419.6 807.4,419.2 808.0,418.6 807.5,418.2 808.5,417.7 807.5,417.2 808.0,416.6 807.4,416.2 808.3,415.7 807.4,415.2 808.2,414.7 807.8,414.2 808.2,413.7 808.0,413.0 807.2,412.8 808.2,412.2 807.5,411.8 808.3,411.2 807.7,410.7 808.6,410.3 807.5,409.8 808.4,409.3 807.9,408.7 808.4,408.3 808.1,407.7 808.7,407.3 808.0,406.7 808.8,406.3 808.2,405.7 808.9,405.4 808.2,404.7 808.8,404.3 807.6,403.8 809.0,403.4 808.1,402.8 808.8,402.3 808.4,401.8 808.9,401.4 808.5,400.8 809.0,400.4 808.3,399.8 809.1,399.4 808.4,398.8 809.0,398.4 808.5,397.8 809.2,397.4 808.5,396.8 809.3,396.4 808.8,395.9 809.5,395.4 808.3,394.8 809.3,394.4 808.9,393.9 809.5,393.4 808.9,392.9 809.6,392.4 808.7,391.9 809.5,391.4 808.7,390.9 809.5,390.4 809.1,389.9 809.3,389.2 809.7,389.2 809.4,389.9 810.0,390.3 809.4,390.9 809.9,391.3 809.4,391.9 810.3,392.2 809.0,393.0 810.2,393.2 809.4,393.9 810.2,394.2 809.4,394.9 810.2,395.2 809.8,395.8 810.4,396.2 809.6,396.8 810.3,397.2 809.4,397.9 810.4,398.2 809.1,398.9 810.3,399.2 809.8,399.7 810.6,400.1 809.7,400.8 810.7,401.1 809.6,401.8 810.5,402.1 809.8,402.7 810.4,403.1 810.1,403.7 810.6,404.1 810.0,404.7 810.6,405.1 810.0,405.7 810.8,406.0 810.2,406.6 810.8,407.0 810.0,407.6 810.8,408.0 810.0,408.6 810.9,409.0 810.5,409.5 810.3,410.1 811.2,410.5 810.1,411.1 810.8,411.5 810.5,412.1 810.8,412.5 810.1,413.1 811.0,413.5 810.3,414.1 811.1,414.4 810.6,415.0 811.5,415.4 810.0,416.1 811.4,416.4 810.5,417.0 811.4,417.4 810.7,418.0 811.3,418.4 810.8,419.0 811.4,419.4 810.7,420.0 811.6,420.4 810.9,420.9 811.4,421.4 810.9,421.9 811.7,422.4 810.6,423.0 811.8,423.4 811.0,423.9 811.7,424.4 811.0,424.9 811.6,425.4 811.0,425.9 811.9,426.3 811.3,426.9 811.8,427.3 811.4,427.9 812.0,428.3 811.5,428.8 811.9,429.3 811.3,429.8 812.2,430.3 811.3,430.8 811.8,431.3 812.8,431.5 811.3,432.4 813.3,432.3 810.8,433.4 814.4,433.1 811.8,434.2 813.5,434.2 811.0,435.2 813.3,435.2 811.5,436.1 813.8,436.0 811.4,437.1 813.7,437.0 813.0,437.7 813.3,439.7 813.5,433.9 813.8,440.2 814.1,437.2 814.3,442.0 814.6,437.5 814.9,442.0 815.1,439.4 815.4,443.0 815.7,440.2 815.9,443.5 816.2,440.4 816.5,444.1 816.7,440.8 817.0,444.0 817.3,444.8 817.5,442.4 817.8,445.9 818.0,440.0 818.3,446.3 818.5,443.4 818.8,447.2 819.0,444.4 819.3,447.9 819.5,444.5 819.8,449.1 820.0,445.6 820.3,450.1 820.5,447.2 820.8,450.0 821.1,450.6 821.4,447.3 821.6,449.3 821.9,445.7 822.2,452.2 822.5,445.9 822.7,449.2 823.0,442.1 823.3,446.7 824.2,446.7 822.6,445.3 824.0,445.6 822.9,444.5 824.6,444.8 823.2,443.6 824.8,443.8 823.4,442.7 825.3,442.9 824.0,442.0 825.1,441.9 824.2,441.1 825.7,441.0 824.1,440.0 825.5,439.9 824.1,439.0 825.6,438.9 824.7,438.2 826.2,438.0 825.5,437.0 825.1,436.6 826.0,436.3 825.3,435.6 826.6,435.4 825.5,434.6 827.0,434.4 825.9,433.7 826.9,433.3 826.2,432.7 827.6,432.4 826.4,431.7 827.2,431.3 827.0,431.9 827.6,432.2 827.1,432.8 828.0,433.1 827.1,433.8 827.9,434.1 827.4,434.8 827.9,435.1 827.6,435.7 828.8,435.9 827.5,436.7 828.5,437.0 827.8,437.7 829.0,437.8 827.9,438.6 828.4,439.0 828.0,439.6 828.8,439.9 828.2,440.5 828.7,440.9 828.3,441.5 829.1,441.8 828.4,442.5 828.9,442.8 828.4,443.5 829.3,443.7 828.4,444.5 829.0,445.0 830.3,444.1 828.4,445.9 830.3,445.2 829.0,446.6 830.9,445.7 828.5,447.8 831.4,446.7 828.3,449.0 832.0,447.8 828.8,449.7 831.5,448.8 828.8,450.7 833.9,449.5 829.4,451.3 831.0,452.0 831.4,449.2 831.7,452.7 832.1,448.9 832.4,452.2 832.8,446.6 833.1,451.2 833.5,447.0 833.8,451.0 834.2,449.2 834.7,446.3 835.2,450.9 835.7,446.5 836.2,451.0 836.7,447.3 837.2,450.8 837.7,449.2" stroke="#000" stroke-width="1.45" fill="none" stroke-linejoin="round"/>
<text x="13.67" y="25.00" font-size="24.0" fill="#000" textLength="29.96" lengthAdjust="spacingAndGlyphs">RT:</text>
<text x="50.21" y="25.10" font-size="24.0" fill="#0c0ca6" textLength="98.16" lengthAdjust="spacingAndGlyphs">0.00 - 92.43</text>
<text x="63.70" y="632.20" font-size="24.0" fill="#000" textLength="10.33" lengthAdjust="spacingAndGlyphs">0</text>
<text x="53.73" y="575.65" font-size="24.0" fill="#000" textLength="20.33" lengthAdjust="spacingAndGlyphs">10</text>
<text x="54.00" y="519.09" font-size="24.0" fill="#000" textLength="20.05" lengthAdjust="spacingAndGlyphs">20</text>
<text x="54.23" y="462.54" font-size="24.0" fill="#000" textLength="19.81" lengthAdjust="spacingAndGlyphs">30</text>
<text x="54.53" y="405.98" font-size="24.0" fill="#000" textLength="19.49" lengthAdjust="spacingAndGlyphs">40</text>
<text x="54.16" y="349.43" font-size="24.0" fill="#000" textLength="19.89" lengthAdjust="spacingAndGlyphs">50</text>
<text x="54.00" y="292.88" font-size="24.0" fill="#000" textLength="20.05" lengthAdjust="spacingAndGlyphs">60</text>
<text x="54.00" y="236.32" font-size="24.0" fill="#000" textLength="20.05" lengthAdjust="spacingAndGlyphs">70</text>
<text x="54.16" y="179.77" font-size="24.0" fill="#000" textLength="19.89" lengthAdjust="spacingAndGlyphs">80</text>
<text x="54.08" y="123.21" font-size="24.0" fill="#000" textLength="19.97" lengthAdjust="spacingAndGlyphs">90</text>
<text x="43.74" y="66.66" font-size="24.0" fill="#000" textLength="30.28" lengthAdjust="spacingAndGlyphs">100</text>
<text x="81.16" y="660.90" font-size="24.0" fill="#000" textLength="10.91" lengthAdjust="spacingAndGlyphs">0</text>
<text x="157.01" y="660.90" font-size="24.0" fill="#000" textLength="21.00" lengthAdjust="spacingAndGlyphs">10</text>
<text x="238.74" y="660.90" font-size="24.0" fill="#000" textLength="20.49" lengthAdjust="spacingAndGlyphs">20</text>
<text x="320.21" y="660.90" font-size="24.0" fill="#000" textLength="20.24" lengthAdjust="spacingAndGlyphs">30</text>
<text x="401.75" y="660.90" font-size="24.0" fill="#000" textLength="19.92" lengthAdjust="spacingAndGlyphs">40</text>
<text x="482.59" y="660.90" font-size="24.0" fill="#000" textLength="20.32" lengthAdjust="spacingAndGlyphs">50</text>
<text x="563.66" y="660.90" font-size="24.0" fill="#000" textLength="20.49" lengthAdjust="spacingAndGlyphs">60</text>
<text x="644.89" y="660.90" font-size="24.0" fill="#000" textLength="20.49" lengthAdjust="spacingAndGlyphs">70</text>
<text x="726.28" y="660.90" font-size="24.0" fill="#000" textLength="20.32" lengthAdjust="spacingAndGlyphs">80</text>
<text x="807.43" y="660.90" font-size="24.0" fill="#000" textLength="20.40" lengthAdjust="spacingAndGlyphs">90</text>
<text x="417.91" y="689.20" font-size="24.0" fill="#000" textLength="87.92" lengthAdjust="spacingAndGlyphs">Time (min)</text>
<text transform="translate(38.1,444.52) rotate(-90)" x="0" y="-0.4" font-size="18.2" textLength="207.75" lengthAdjust="spacingAndGlyphs">Relative Abundance</text>
<text x="129.68" y="598.00" font-size="24.0" fill="#000" textLength="35.77" lengthAdjust="spacingAndGlyphs">7.57</text>
<text x="240.69" y="575.60" font-size="24.0" fill="#000" textLength="45.61" lengthAdjust="spacingAndGlyphs">21.94</text>
<text x="325.10" y="204.30" font-size="24.0" fill="#000" textLength="46.50" lengthAdjust="spacingAndGlyphs">32.27</text>
<text x="407.02" y="580.40" font-size="24.0" fill="#000" textLength="45.48" lengthAdjust="spacingAndGlyphs">42.28</text>
<text x="472.04" y="244.20" font-size="24.0" fill="#000" textLength="45.77" lengthAdjust="spacingAndGlyphs">50.34</text>
<text x="508.63" y="472.10" font-size="24.0" fill="#000" textLength="46.21" lengthAdjust="spacingAndGlyphs">54.80</text>
<text x="566.57" y="549.60" font-size="24.0" fill="#000" textLength="46.74" lengthAdjust="spacingAndGlyphs">61.99</text>
<text x="660.68" y="52.90" font-size="24.0" fill="#000" textLength="46.24" lengthAdjust="spacingAndGlyphs">73.53</text>
<text x="720.73" y="382.50" font-size="24.0" fill="#000" textLength="46.39" lengthAdjust="spacingAndGlyphs">80.96</text>
<text x="837.45" y="50.30" font-size="24.0" fill="#000" textLength="29.02" lengthAdjust="spacingAndGlyphs" xml:space="preserve">NL:</text>
<text x="838.14" y="74.20" font-size="24.0" fill="#000" textLength="57.57" lengthAdjust="spacingAndGlyphs" xml:space="preserve">1.19E8</text>
<text x="838.12" y="105.60" font-size="24.0" fill="#000" textLength="66.61" lengthAdjust="spacingAndGlyphs" xml:space="preserve">TIC  MS</text>
<text x="837.39" y="130.60" font-size="24.0" fill="#000" textLength="92.48" lengthAdjust="spacingAndGlyphs" xml:space="preserve">Mostafasye</text>
<text x="837.75" y="156.20" font-size="24.0" fill="#000" textLength="41.94" lengthAdjust="spacingAndGlyphs" xml:space="preserve">dE26</text>
</svg>
</body></html>
